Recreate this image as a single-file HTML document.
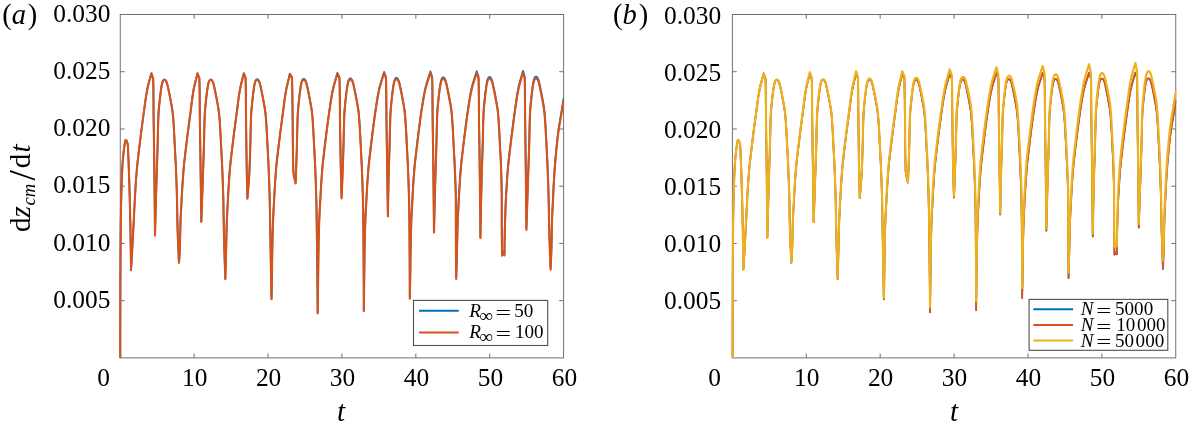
<!DOCTYPE html>
<html lang="en">
<head>
<meta charset="utf-8">
<title>Figure: dz_cm/dt versus t</title>
<style>
html,body{margin:0;padding:0;background:#fff;}
body{width:1189px;height:429px;overflow:hidden;}
svg{display:block;will-change:transform;}
text{font-family:"Liberation Serif","DejaVu Serif",serif;fill:#000;}
.tk{font-size:25.4px;}
.pl{font-size:28.5px;}
.al{font-size:29px;}
.lg{font-size:19.1px;}
.i{font-style:italic;}
.c{fill:none;stroke-width:2.1;stroke-linejoin:round;stroke-linecap:butt;}
</style>
</head>
<body>
<svg width="1189" height="429" viewBox="0 0 1189 429">
<rect x="0" y="0" width="1189" height="429" fill="#ffffff"/>
<defs>
<clipPath id="ca"><rect x="119.05" y="14.50" width="445.05" height="344.00"/></clipPath>
<clipPath id="cb"><rect x="731.20" y="14.50" width="445.05" height="344.00"/></clipPath>
</defs>

<!-- panel a -->
<rect x="120.25" y="14.50" width="443.35" height="343.40" fill="none" stroke="#707070" stroke-width="1"/>
<path d="M194.14 357.90v-4.40M194.14 14.50v4.40M268.03 357.90v-4.40M268.03 14.50v4.40M341.93 357.90v-4.40M341.93 14.50v4.40M415.82 357.90v-4.40M415.82 14.50v4.40M489.71 357.90v-4.40M489.71 14.50v4.40M120.25 300.67h4.40M563.60 300.67h-4.40M120.25 243.43h4.40M563.60 243.43h-4.40M120.25 186.20h4.40M563.60 186.20h-4.40M120.25 128.97h4.40M563.60 128.97h-4.40M120.25 71.73h4.40M563.60 71.73h-4.40" fill="none" stroke="#707070" stroke-width="1"/>
<g clip-path="url(#ca)">
<path class="c" style="stroke-width:1.8" stroke="#0072BD" d="M120.25 357.90L120.25 346.87L120.26 336.12L120.28 325.67L120.29 315.49L120.32 305.61L120.34 296.01L120.37 286.70L120.39 277.67L120.43 268.93L120.47 260.48L120.52 252.32L120.58 244.44L120.64 236.84L120.72 229.54L120.79 222.52L120.88 215.79L120.99 209.34L121.11 203.18L121.25 197.30L121.40 191.72L121.56 186.42L121.73 181.40L121.91 176.67L122.10 172.23L122.30 168.08L122.52 164.21L122.77 160.63L123.06 157.33L123.35 154.33L123.66 151.60L123.95 149.17L124.24 147.02L124.53 145.16L124.81 143.58L125.01 142.29L125.20 141.29L125.37 140.57L125.50 140.14L125.60 140.00L126.60 140.70L127.80 144.30L128.10 150.89L128.39 157.48L128.66 164.07L128.89 170.66L129.11 177.25L129.32 183.84L129.52 190.43L129.71 197.02L129.89 203.61L130.05 210.19L130.19 216.78L130.33 223.37L130.45 229.96L130.56 236.55L130.67 243.14L130.77 249.73L130.86 256.32L130.94 263.81L131.00 270.40L131.26 266.40L131.51 261.49L131.76 257.49L132.00 253.48L132.23 249.48L132.46 245.48L132.68 241.47L132.89 237.47L133.10 233.46L133.31 229.46L133.52 225.46L133.73 221.45L133.93 217.45L134.13 213.44L134.32 209.44L134.53 205.43L134.73 201.43L134.94 197.43L135.16 193.42L135.39 189.42L135.64 185.41L135.91 181.41L136.21 177.41L136.53 173.40L136.87 169.40L137.25 165.39L137.67 161.39L138.13 157.39L138.60 153.38L139.07 149.38L139.55 145.37L140.03 141.37L140.52 137.37L141.03 133.36L141.54 129.36L142.06 125.35L142.59 121.35L143.14 117.34L143.69 113.34L144.23 109.34L144.77 105.33L145.31 101.33L145.89 97.32L146.54 93.32L147.26 89.32L148.19 85.31L149.26 81.31L150.32 77.30L151.40 73.30L153.18 78.89L153.33 84.48L153.41 90.07L153.46 95.66L153.49 101.25L153.53 106.84L153.57 112.43L153.63 118.02L153.70 123.61L153.77 129.20L153.85 134.79L153.93 140.38L154.01 145.97L154.10 151.56L154.18 157.14L154.25 162.73L154.32 168.32L154.38 173.91L154.45 179.50L154.51 185.09L154.57 190.68L154.63 196.27L154.69 201.86L154.74 207.45L154.80 213.04L154.85 218.63L154.90 224.22L154.95 229.81L155.00 235.40L155.16 229.11L155.32 222.95L155.48 216.92L155.64 211.02L155.79 205.25L155.95 199.60L156.10 194.09L156.26 188.71L156.41 183.46L156.57 178.33L156.72 173.34L156.88 168.48L157.03 163.74L157.19 159.14L157.34 154.66L157.48 150.32L157.60 146.10L157.70 142.02L157.80 138.06L157.88 134.24L157.96 130.54L158.05 126.97L158.14 123.54L158.24 120.23L158.36 117.05L158.50 114.00L158.68 111.09L158.91 108.30L159.16 105.64L159.43 103.11L159.69 100.71L159.93 98.44L160.17 96.30L160.40 94.29L160.63 92.41L160.86 90.66L161.10 89.04L161.32 87.55L161.54 86.18L161.77 84.95L162.00 83.85L162.25 82.88L162.52 82.03L162.80 81.32L163.09 80.74L163.40 80.28L163.72 79.96L164.05 79.76L164.40 79.70L164.74 79.75L165.07 79.91L165.40 80.17L165.72 80.54L166.03 81.01L166.34 81.59L166.64 82.28L166.93 83.06L167.20 83.96L167.46 84.96L167.72 86.06L167.99 87.27L168.27 88.58L168.56 90.00L168.89 91.53L169.23 93.16L169.59 94.89L169.95 96.73L170.32 98.68L170.69 100.73L171.09 102.88L171.50 105.14L171.91 107.51L172.30 109.98L172.64 112.56L172.92 115.24L173.17 118.02L173.40 120.92L173.61 123.91L173.80 127.01L173.99 130.22L174.17 133.53L174.35 136.95L174.53 140.47L174.71 144.10L174.90 147.83L175.10 151.67L175.31 155.61L175.53 159.66L175.73 163.81L175.92 168.07L176.09 172.44L176.27 176.90L176.44 181.48L176.61 186.16L176.76 190.94L176.91 195.83L177.04 200.82L177.14 205.92L177.22 211.13L177.30 216.44L177.40 221.85L177.54 227.37L177.71 233.00L177.91 238.73L178.15 244.56L178.40 250.50L178.69 256.55L179.00 262.70L179.29 258.83L179.55 254.97L179.75 251.10L179.90 247.24L180.00 243.37L180.09 239.51L180.17 235.64L180.25 231.78L180.33 227.91L180.43 224.05L180.57 220.18L180.74 216.32L180.94 212.45L181.15 208.59L181.36 204.72L181.57 200.86L181.77 196.99L181.98 193.12L182.20 189.26L182.44 185.39L182.69 181.53L182.95 177.66L183.23 173.80L183.54 169.93L183.88 166.07L184.27 162.20L184.71 158.34L185.17 154.47L185.63 150.61L186.08 146.74L186.55 142.88L187.02 139.01L187.50 135.14L187.99 131.28L188.50 127.41L189.01 123.55L189.53 119.68L190.05 115.82L190.57 111.95L191.06 108.09L191.53 104.22L192.02 100.36L192.54 96.49L193.12 92.63L193.78 88.76L194.64 84.90L195.60 81.03L196.53 77.17L197.50 73.30L199.35 78.42L199.52 83.54L199.60 88.66L199.66 93.78L199.70 98.90L199.73 104.02L199.76 109.14L199.81 114.27L199.87 119.39L199.93 124.51L200.00 129.63L200.08 134.75L200.15 139.87L200.23 144.99L200.31 150.11L200.39 155.23L200.47 160.35L200.54 165.47L200.61 170.59L200.68 175.71L200.75 180.83L200.82 185.95L200.89 191.07L200.96 196.19L201.03 201.31L201.10 206.43L201.17 211.55L201.23 216.67L201.30 221.79L201.51 216.05L201.71 210.42L201.90 204.92L202.09 199.53L202.28 194.26L202.46 189.11L202.63 184.08L202.80 179.17L202.97 174.37L203.13 169.69L203.29 165.13L203.44 160.69L203.59 156.37L203.72 152.17L203.85 148.09L203.95 144.12L204.04 140.27L204.13 136.54L204.21 132.93L204.29 129.44L204.37 126.07L204.46 122.81L204.56 119.67L204.68 116.65L204.81 113.75L204.98 110.97L205.20 108.30L205.45 105.76L205.70 103.33L205.96 101.02L206.19 98.83L206.41 96.75L206.63 94.80L206.86 92.96L207.08 91.24L207.30 89.64L207.52 88.16L207.73 86.80L207.94 85.55L208.16 84.43L208.39 83.42L208.63 82.53L208.89 81.76L209.16 81.11L209.45 80.57L209.74 80.15L210.05 79.86L210.37 79.68L210.70 79.61L211.05 79.67L211.40 79.84L211.74 80.12L212.07 80.52L212.40 81.03L212.72 81.66L213.03 82.40L213.33 83.26L213.61 84.23L213.88 85.31L214.15 86.51L214.43 87.83L214.73 89.26L215.06 90.80L215.41 92.46L215.78 94.23L216.15 96.12L216.54 98.12L216.92 100.23L217.33 102.46L217.77 104.81L218.20 107.27L218.60 109.84L218.96 112.53L219.24 115.33L219.50 118.25L219.74 121.28L219.95 124.43L220.15 127.69L220.35 131.07L220.53 134.56L220.72 138.16L220.91 141.88L221.10 145.72L221.31 149.67L221.52 153.73L221.74 157.91L221.96 162.20L222.16 166.61L222.35 171.13L222.53 175.76L222.72 180.51L222.89 185.38L223.05 190.36L223.20 195.45L223.34 200.66L223.45 205.99L223.54 211.42L223.62 216.98L223.72 222.64L223.85 228.43L223.98 234.32L224.13 240.33L224.29 246.46L224.47 252.70L224.66 259.05L224.86 265.52L225.07 272.10L225.30 278.80L225.42 274.60L225.54 270.41L225.66 266.21L225.77 262.02L225.89 257.82L226.00 253.63L226.11 249.43L226.21 245.24L226.31 241.04L226.40 236.85L226.49 232.66L226.60 228.46L226.72 224.27L226.86 220.07L227.05 215.88L227.27 211.68L227.50 207.48L227.73 203.29L227.95 199.09L228.17 194.90L228.40 190.70L228.65 186.51L228.92 182.31L229.20 178.11L229.50 173.92L229.83 169.72L230.21 165.52L230.64 161.33L231.12 157.13L231.62 152.93L232.12 148.73L232.62 144.53L233.12 140.34L233.64 136.14L234.17 131.94L234.72 127.74L235.27 123.54L235.84 119.35L236.40 115.15L236.96 110.95L237.49 106.75L238.01 102.55L238.56 98.35L239.16 94.16L239.85 89.96L240.70 85.76L241.73 81.55L242.75 77.35L243.80 73.15L245.51 77.45L245.69 81.76L245.76 86.08L245.81 90.39L245.85 94.70L245.88 99.02L245.91 103.33L245.94 107.64L245.97 111.96L246.01 116.27L246.06 120.58L246.10 124.90L246.15 129.21L246.21 133.52L246.26 137.84L246.32 142.15L246.38 146.46L246.44 150.78L246.51 155.09L246.57 159.40L246.64 163.72L246.72 168.03L246.80 172.34L246.88 176.66L246.98 180.97L247.08 185.28L247.18 189.59L247.29 193.91L247.40 198.22L247.82 193.41L248.21 188.71L248.58 184.10L248.90 179.59L249.19 175.18L249.43 170.87L249.63 166.66L249.79 162.55L249.93 158.53L250.05 154.62L250.16 150.81L250.26 147.09L250.36 143.48L250.44 139.96L250.52 136.54L250.59 133.22L250.67 130.00L250.74 126.88L250.82 123.86L250.91 120.94L251.01 118.12L251.12 115.39L251.24 112.77L251.41 110.24L251.61 107.81L251.84 105.48L252.07 103.25L252.30 101.12L252.52 99.09L252.73 97.16L252.93 95.32L253.13 93.59L253.34 91.95L253.54 90.41L253.74 88.98L253.94 87.64L254.13 86.40L254.33 85.26L254.53 84.22L254.73 83.27L254.95 82.43L255.18 81.69L255.43 81.04L255.68 80.49L255.95 80.04L256.22 79.70L256.50 79.45L256.80 79.30L257.10 79.24L257.47 79.30L257.83 79.49L258.19 79.80L258.54 80.24L258.88 80.81L259.21 81.50L259.53 82.31L259.84 83.26L260.13 84.33L260.41 85.53L260.70 86.85L261.01 88.30L261.34 89.87L261.70 91.57L262.08 93.40L262.48 95.35L262.88 97.43L263.28 99.63L263.71 101.96L264.16 104.42L264.62 107.00L265.04 109.71L265.40 112.55L265.70 115.51L265.96 118.60L266.20 121.82L266.42 125.16L266.63 128.63L266.83 132.22L267.03 135.94L267.22 139.79L267.42 143.76L267.63 147.86L267.86 152.08L268.09 156.43L268.31 160.91L268.53 165.52L268.73 170.25L268.92 175.10L269.11 180.08L269.30 185.19L269.47 190.43L269.62 195.79L269.76 201.28L269.87 206.89L269.97 212.63L270.06 218.50L270.16 224.49L270.27 230.61L270.38 236.85L270.49 243.22L270.60 249.72L270.72 256.34L270.84 263.09L270.97 269.97L271.10 276.97L271.23 284.09L271.36 291.35L271.50 298.73L271.61 294.14L271.71 289.54L271.80 284.95L271.88 280.36L271.96 275.77L272.02 271.17L272.07 266.58L272.12 261.99L272.18 257.40L272.25 252.80L272.32 248.21L272.41 243.62L272.51 239.03L272.62 234.43L272.74 229.84L272.87 225.25L273.03 220.65L273.22 216.06L273.46 211.47L273.71 206.87L273.96 202.28L274.20 197.69L274.45 193.09L274.71 188.50L274.99 183.90L275.29 179.31L275.62 174.72L275.97 170.12L276.37 165.53L276.85 160.93L277.37 156.33L277.92 151.74L278.46 147.14L279.01 142.55L279.57 137.95L280.15 133.35L280.73 128.76L281.34 124.16L281.95 119.56L282.58 114.97L283.20 110.37L283.78 105.77L284.38 101.18L285.01 96.58L285.73 91.98L286.58 87.38L287.67 82.78L288.77 78.18L289.90 73.58L291.99 77.33L292.12 81.09L292.19 84.85L292.25 88.61L292.31 92.37L292.37 96.13L292.42 99.90L292.47 103.66L292.51 107.42L292.56 111.18L292.60 114.94L292.65 118.70L292.69 122.47L292.72 126.23L292.75 129.99L292.77 133.75L292.80 137.51L292.83 141.27L292.86 145.04L292.90 148.80L292.94 152.56L292.99 156.32L293.06 160.08L293.13 163.84L293.22 167.61L293.34 171.37L293.85 175.13L294.70 178.88L295.60 182.64L295.77 178.44L295.93 174.34L296.08 170.32L296.22 166.39L296.35 162.55L296.48 158.79L296.61 155.11L296.72 151.53L296.83 148.03L296.92 144.62L297.00 141.29L297.08 138.05L297.15 134.90L297.22 131.83L297.29 128.85L297.36 125.96L297.43 123.15L297.51 120.43L297.60 117.79L297.71 115.24L297.82 112.78L297.97 110.40L298.15 108.11L298.36 105.91L298.58 103.79L298.79 101.76L299.00 99.81L299.20 97.95L299.39 96.18L299.58 94.50L299.77 92.90L299.96 91.38L300.15 89.96L300.34 88.62L300.53 87.36L300.71 86.20L300.89 85.12L301.07 84.12L301.26 83.21L301.46 82.39L301.67 81.66L301.90 81.01L302.13 80.45L302.37 79.97L302.62 79.58L302.88 79.28L303.14 79.06L303.42 78.93L303.70 78.88L304.08 78.95L304.46 79.15L304.82 79.48L305.18 79.95L305.53 80.56L305.87 81.29L306.20 82.16L306.51 83.17L306.81 84.31L307.10 85.58L307.40 86.99L307.73 88.54L308.09 90.21L308.47 92.02L308.87 93.97L309.28 96.05L309.69 98.26L310.12 100.61L310.58 103.09L311.05 105.71L311.50 108.46L311.90 111.34L312.22 114.36L312.50 117.52L312.75 120.81L312.98 124.23L313.20 127.79L313.41 131.48L313.61 135.30L313.81 139.26L314.02 143.36L314.23 147.59L314.47 151.95L314.70 156.45L314.94 161.08L315.16 165.84L315.36 170.75L315.56 175.78L315.76 180.95L315.94 186.25L316.11 191.69L316.27 197.26L316.40 202.97L316.51 208.81L316.61 214.78L316.70 220.89L316.79 227.13L316.88 233.51L316.96 240.02L317.05 246.67L317.13 253.45L317.21 260.36L317.29 267.41L317.37 274.60L317.44 281.91L317.51 289.37L317.58 296.95L317.64 304.67L317.70 312.53L317.76 307.64L317.81 302.75L317.87 297.86L317.93 292.97L317.99 288.08L318.05 283.19L318.11 278.30L318.17 273.41L318.23 268.52L318.29 263.63L318.35 258.74L318.42 253.85L318.50 248.96L318.59 244.07L318.70 239.18L318.81 234.28L318.94 229.39L319.09 224.50L319.25 219.61L319.47 214.72L319.73 209.83L320.00 204.94L320.26 200.05L320.52 195.16L320.79 190.27L321.08 185.38L321.40 180.49L321.73 175.60L322.10 170.70L322.52 165.81L323.02 160.92L323.58 156.03L324.16 151.14L324.73 146.24L325.32 141.35L325.92 136.46L326.54 131.57L327.16 126.67L327.80 121.78L328.46 116.89L329.16 112.00L329.86 107.10L330.59 102.21L331.36 97.32L332.23 92.42L333.25 87.53L334.58 82.64L335.98 77.74L337.40 72.84L339.39 77.13L339.60 81.43L339.69 85.72L339.75 90.02L339.79 94.32L339.83 98.61L339.86 102.91L339.89 107.21L339.93 111.50L339.98 115.80L340.03 120.10L340.09 124.39L340.14 128.69L340.20 132.98L340.27 137.28L340.33 141.58L340.40 145.87L340.47 150.17L340.55 154.47L340.63 158.76L340.71 163.06L340.80 167.35L340.89 171.65L340.99 175.95L341.10 180.24L341.22 184.54L341.34 188.83L341.47 193.13L341.60 197.43L341.80 192.62L341.99 187.91L342.17 183.30L342.34 178.79L342.51 174.38L342.67 170.06L342.82 165.85L342.97 161.74L343.10 157.72L343.23 153.80L343.35 149.99L343.46 146.27L343.56 142.65L343.64 139.13L343.72 135.71L343.79 132.39L343.87 129.17L343.94 126.05L344.02 123.02L344.11 120.10L344.20 117.27L344.31 114.55L344.44 111.92L344.61 109.39L344.81 106.96L345.04 104.63L345.27 102.40L345.50 100.27L345.72 98.23L345.92 96.30L346.13 94.47L346.33 92.73L346.54 91.09L346.74 89.56L346.94 88.12L347.14 86.78L347.33 85.54L347.53 84.40L347.72 83.36L347.93 82.41L348.15 81.57L348.38 80.83L348.63 80.18L348.88 79.64L349.15 79.19L349.42 78.84L349.70 78.59L350.00 78.44L350.30 78.39L350.68 78.46L351.05 78.65L351.42 78.99L351.78 79.45L352.12 80.05L352.46 80.78L352.79 81.64L353.10 82.64L353.40 83.77L353.69 85.04L353.99 86.43L354.31 87.96L354.67 89.63L355.04 91.42L355.44 93.35L355.85 95.41L356.26 97.61L356.69 99.94L357.15 102.40L357.61 105.00L358.06 107.72L358.47 110.59L358.79 113.58L359.07 116.71L359.33 119.97L359.56 123.37L359.78 126.90L359.98 130.56L360.19 134.35L360.39 138.28L360.59 142.34L360.81 146.53L361.03 150.86L361.27 155.32L361.51 159.92L361.73 164.64L361.93 169.50L362.13 174.50L362.33 179.62L362.51 184.88L362.69 190.28L362.84 195.80L362.98 201.46L363.10 207.26L363.21 213.18L363.29 219.24L363.35 225.43L363.41 231.76L363.47 238.22L363.52 244.81L363.57 251.54L363.62 258.39L363.67 265.39L363.70 272.51L363.74 279.77L363.76 287.16L363.78 294.69L363.80 302.34L363.80 310.13L363.86 305.27L363.92 300.42L363.98 295.56L364.05 290.70L364.11 285.84L364.17 280.98L364.24 276.12L364.30 271.26L364.35 266.40L364.41 261.54L364.48 256.68L364.55 251.82L364.64 246.96L364.73 242.10L364.84 237.24L364.96 232.38L365.09 227.52L365.24 222.66L365.42 217.80L365.65 212.94L365.92 208.08L366.18 203.22L366.44 198.36L366.70 193.50L366.97 188.64L367.27 183.78L367.59 178.92L367.93 174.06L368.31 169.20L368.74 164.34L369.26 159.48L369.82 154.62L370.40 149.75L370.97 144.89L371.56 140.03L372.16 135.17L372.78 130.31L373.39 125.45L374.03 120.58L374.69 115.72L375.40 110.86L376.12 106.00L376.87 101.13L377.68 96.27L378.60 91.41L379.67 86.55L381.10 81.68L382.59 76.82L384.10 71.95L385.94 76.88L386.12 81.82L386.20 86.76L386.25 91.71L386.29 96.65L386.32 101.59L386.35 106.53L386.40 111.47L386.45 116.41L386.51 121.35L386.57 126.29L386.64 131.24L386.71 136.18L386.79 141.12L386.86 146.06L386.94 151.00L387.02 155.94L387.09 160.88L387.16 165.82L387.24 170.76L387.31 175.71L387.38 180.65L387.46 185.59L387.53 190.53L387.60 195.47L387.68 200.41L387.75 205.35L387.83 210.29L387.90 215.23L387.98 209.69L388.06 204.25L388.16 198.94L388.25 193.73L388.36 188.64L388.46 183.67L388.57 178.80L388.69 174.06L388.81 169.43L388.93 164.91L389.07 160.50L389.22 156.21L389.37 152.04L389.50 147.98L389.61 144.03L389.70 140.20L389.79 136.48L389.87 132.88L389.95 129.39L390.03 126.02L390.11 122.76L390.21 119.61L390.31 116.58L390.43 113.66L390.58 110.86L390.77 108.17L390.99 105.60L391.24 103.14L391.49 100.79L391.73 98.56L391.96 96.44L392.18 94.44L392.39 92.55L392.61 90.78L392.83 89.12L393.05 87.58L393.26 86.15L393.47 84.83L393.68 83.63L393.89 82.54L394.12 81.57L394.36 80.71L394.62 79.96L394.89 79.33L395.17 78.82L395.46 78.42L395.76 78.13L396.08 77.96L396.40 77.90L396.77 77.96L397.13 78.15L397.49 78.46L397.84 78.90L398.18 79.47L398.51 80.16L398.83 80.98L399.14 81.92L399.43 83.00L399.71 84.19L400.00 85.52L400.31 86.97L400.64 88.54L401.00 90.24L401.38 92.07L401.78 94.03L402.18 96.11L402.58 98.31L403.01 100.64L403.46 103.10L403.92 105.69L404.34 108.40L404.70 111.24L405.00 114.20L405.26 117.29L405.50 120.51L405.72 123.85L405.93 127.32L406.13 130.91L406.33 134.63L406.52 138.48L406.72 142.45L406.93 146.55L407.16 150.78L407.39 155.13L407.61 159.61L407.83 164.21L408.03 168.95L408.22 173.80L408.41 178.78L408.60 183.89L408.77 189.13L408.92 194.49L409.06 199.98L409.18 205.59L409.29 211.33L409.37 217.20L409.43 223.19L409.49 229.31L409.54 235.56L409.59 241.93L409.63 248.43L409.67 255.05L409.71 261.80L409.74 268.68L409.77 275.68L409.78 282.81L409.80 290.06L409.80 297.44L409.91 292.83L410.02 288.22L410.11 283.61L410.20 279.00L410.27 274.39L410.33 269.78L410.38 265.17L410.43 260.56L410.49 255.95L410.56 251.34L410.64 246.73L410.73 242.12L410.83 237.51L410.94 232.89L411.06 228.28L411.20 223.67L411.36 219.06L411.57 214.45L411.81 209.84L412.07 205.23L412.31 200.62L412.55 196.01L412.81 191.40L413.07 186.78L413.36 182.17L413.67 177.56L414.00 172.95L414.36 168.34L414.78 163.73L415.28 159.11L415.81 154.50L416.36 149.89L416.90 145.28L417.46 140.66L418.03 136.05L418.61 131.44L419.19 126.83L419.78 122.21L420.40 117.60L421.06 112.99L421.74 108.37L422.45 103.76L423.19 99.15L424.01 94.53L424.93 89.92L426.03 85.31L427.46 80.69L428.92 76.07L430.40 71.46L432.18 76.95L432.33 82.46L432.40 87.96L432.46 93.46L432.49 98.97L432.53 104.47L432.57 109.97L432.62 115.47L432.69 120.98L432.76 126.48L432.83 131.98L432.91 137.49L432.99 142.99L433.08 148.49L433.16 154.00L433.23 159.50L433.30 165.00L433.37 170.51L433.43 176.01L433.49 181.51L433.56 187.02L433.62 192.52L433.68 198.02L433.73 203.53L433.79 209.03L433.84 214.53L433.90 220.04L433.95 225.54L434.00 231.04L434.14 224.84L434.28 218.76L434.42 212.81L434.56 206.99L434.70 201.29L434.84 195.72L434.99 190.29L435.13 184.98L435.28 179.79L435.42 174.74L435.57 169.81L435.71 165.01L435.87 160.34L436.02 155.80L436.18 151.39L436.31 147.10L436.42 142.94L436.52 138.91L436.61 135.01L436.70 131.23L436.78 127.59L436.87 124.07L436.96 120.68L437.06 117.41L437.18 114.28L437.32 111.27L437.51 108.39L437.74 105.64L438.00 103.01L438.27 100.52L438.52 98.15L438.76 95.91L438.99 93.80L439.22 91.81L439.45 89.96L439.69 88.23L439.91 86.63L440.14 85.16L440.36 83.81L440.58 82.60L440.81 81.51L441.06 80.55L441.33 79.71L441.61 79.01L441.90 78.43L442.21 77.98L442.53 77.66L442.86 77.47L443.20 77.40L443.55 77.46L443.90 77.63L444.24 77.92L444.58 78.32L444.90 78.83L445.22 79.47L445.53 80.21L445.83 81.07L446.11 82.05L446.38 83.14L446.66 84.35L446.94 85.67L447.24 87.11L447.57 88.66L447.92 90.32L448.29 92.11L448.67 94.00L449.05 96.01L449.44 98.14L449.85 100.38L450.29 102.74L450.72 105.21L451.12 107.79L451.47 110.50L451.76 113.31L452.02 116.24L452.25 119.29L452.46 122.45L452.67 125.73L452.86 129.12L453.05 132.63L453.23 136.25L453.42 139.99L453.62 143.84L453.82 147.81L454.04 151.89L454.26 156.09L454.48 160.40L454.68 164.83L454.87 169.37L455.08 174.03L455.29 178.80L455.48 183.69L455.65 188.70L455.78 193.81L455.84 199.05L455.85 204.40L455.85 209.86L455.85 215.44L455.85 221.13L455.86 226.94L455.88 232.86L455.90 238.90L455.94 245.06L455.98 251.32L456.02 257.71L456.08 264.21L456.14 270.82L456.20 277.55L456.32 273.34L456.44 269.13L456.56 264.92L456.67 260.71L456.79 256.50L456.90 252.29L457.01 248.07L457.12 243.86L457.21 239.65L457.30 235.44L457.40 231.23L457.50 227.02L457.63 222.81L457.77 218.60L457.96 214.39L458.18 210.18L458.41 205.97L458.64 201.76L458.86 197.54L459.09 193.33L459.32 189.12L459.58 184.91L459.84 180.70L460.13 176.49L460.43 172.28L460.77 168.06L461.15 163.85L461.59 159.64L462.08 155.43L462.58 151.22L463.08 147.00L463.58 142.79L464.09 138.58L464.61 134.37L465.15 130.15L465.68 125.94L466.22 121.73L466.79 117.52L467.38 113.30L468.00 109.09L468.63 104.88L469.28 100.67L469.99 96.45L470.76 92.24L471.64 88.03L472.72 83.81L474.05 79.60L475.36 75.38L476.70 71.16L478.54 76.87L478.69 82.58L478.77 88.29L478.82 94.00L478.86 99.71L478.89 105.42L478.94 111.13L479.00 116.84L479.07 122.55L479.15 128.26L479.24 133.97L479.32 139.68L479.41 145.39L479.50 151.10L479.58 156.81L479.66 162.52L479.72 168.23L479.79 173.94L479.85 179.65L479.92 185.36L479.98 191.07L480.04 196.78L480.10 202.49L480.15 208.20L480.21 213.91L480.26 219.62L480.31 225.33L480.35 231.04L480.40 236.75L480.51 230.30L480.62 223.98L480.74 217.79L480.86 211.74L480.98 205.82L481.11 200.03L481.24 194.38L481.37 188.85L481.50 183.47L481.64 178.21L481.77 173.09L481.91 168.10L482.05 163.24L482.21 158.52L482.37 153.93L482.52 149.47L482.65 145.15L482.76 140.96L482.86 136.90L482.95 132.98L483.04 129.18L483.12 125.53L483.21 122.00L483.31 118.61L483.42 115.35L483.56 112.22L483.72 109.23L483.94 106.37L484.20 103.64L484.47 101.04L484.74 98.58L484.98 96.25L485.22 94.06L485.46 91.99L485.69 90.06L485.93 88.27L486.16 86.60L486.39 85.07L486.61 83.67L486.84 82.41L487.07 81.28L487.33 80.28L487.59 79.41L487.88 78.68L488.18 78.08L488.49 77.61L488.81 77.28L489.15 77.08L489.50 77.01L489.83 77.06L490.16 77.21L490.48 77.46L490.80 77.82L491.11 78.28L491.41 78.83L491.70 79.49L491.99 80.26L492.26 81.12L492.52 82.09L492.78 83.15L493.04 84.32L493.30 85.59L493.59 86.97L493.91 88.44L494.24 90.01L494.59 91.69L494.94 93.47L495.30 95.35L495.66 97.34L496.05 99.42L496.45 101.61L496.86 103.89L497.25 106.28L497.61 108.77L497.91 111.37L498.16 114.06L498.40 116.86L498.61 119.76L498.81 122.76L499.00 125.86L499.18 129.07L499.35 132.37L499.53 135.78L499.71 139.29L499.89 142.90L500.08 146.62L500.29 150.43L500.51 154.35L500.73 158.37L500.91 162.49L501.06 166.71L501.19 171.03L501.33 175.46L501.45 179.98L501.56 184.61L501.65 189.35L501.72 194.18L501.75 199.11L501.75 204.15L501.75 209.29L501.75 214.53L501.75 219.87L501.77 225.31L501.80 230.86L501.86 236.51L501.93 242.26L502.01 248.11L502.10 254.06L503.30 251.85L504.50 253.65L504.51 249.92L504.54 246.19L504.58 242.46L504.64 238.73L504.71 235.00L504.79 231.28L504.89 227.55L504.99 223.82L505.10 220.09L505.22 216.36L505.34 212.63L505.47 208.90L505.60 205.17L505.73 201.44L505.90 197.71L506.10 193.98L506.33 190.25L506.56 186.53L506.80 182.80L507.04 179.07L507.29 175.34L507.57 171.61L507.87 167.88L508.20 164.15L508.59 160.42L509.01 156.69L509.45 152.96L509.89 149.23L510.33 145.50L510.78 141.76L511.23 138.03L511.70 134.30L512.17 130.57L512.64 126.84L513.13 123.11L513.62 119.38L514.13 115.65L514.65 111.92L515.17 108.19L515.69 104.46L516.21 100.73L516.76 97.00L517.36 93.27L518.03 89.53L518.79 85.80L519.77 82.07L520.86 78.34L521.91 74.60L523.00 70.87L524.67 76.29L524.82 81.71L524.89 87.14L524.94 92.56L524.97 97.98L525.00 103.41L525.04 108.83L525.09 114.26L525.15 119.68L525.22 125.10L525.29 130.53L525.36 135.95L525.43 141.37L525.51 146.80L525.58 152.22L525.66 157.65L525.72 163.07L525.79 168.49L525.85 173.92L525.91 179.34L525.97 184.77L526.03 190.19L526.08 195.61L526.14 201.04L526.19 206.46L526.25 211.88L526.30 217.31L526.35 222.73L526.40 228.16L526.60 222.04L526.80 216.04L526.99 210.17L527.18 204.43L527.36 198.81L527.54 193.32L527.72 187.96L527.89 182.72L528.06 177.61L528.23 172.62L528.39 167.76L528.56 163.03L528.71 158.42L528.87 153.94L529.01 149.59L529.14 145.36L529.25 141.26L529.34 137.28L529.43 133.43L529.51 129.71L529.60 126.11L529.68 122.64L529.78 119.30L529.88 116.08L530.01 112.99L530.15 110.02L530.34 107.18L530.58 104.47L530.84 101.88L531.10 99.42L531.35 97.08L531.59 94.87L531.82 92.79L532.05 90.83L532.28 89.00L532.51 87.29L532.73 85.72L532.95 84.26L533.17 82.94L533.39 81.74L533.63 80.66L533.87 79.72L534.14 78.90L534.42 78.20L534.71 77.63L535.01 77.19L535.33 76.87L535.66 76.68L536.00 76.62L536.35 76.67L536.69 76.83L537.02 77.11L537.35 77.49L537.67 77.98L537.98 78.59L538.28 79.30L538.58 80.12L538.86 81.06L539.12 82.10L539.39 83.25L539.66 84.52L539.95 85.89L540.26 87.37L540.60 88.96L540.96 90.66L541.32 92.48L541.70 94.40L542.07 96.43L542.46 98.57L542.88 100.82L543.31 103.18L543.72 105.66L544.09 108.24L544.40 110.93L544.67 113.73L544.91 116.64L545.13 119.66L545.34 122.80L545.53 126.04L545.72 129.39L545.90 132.85L546.08 136.42L546.27 140.10L546.46 143.89L546.66 147.79L546.88 151.81L547.09 155.93L547.30 160.16L547.50 164.50L547.68 168.95L547.86 173.51L548.04 178.18L548.21 182.96L548.37 187.85L548.51 192.85L548.64 197.96L548.75 203.18L548.83 208.51L548.92 213.95L549.02 219.50L549.15 225.16L549.30 230.93L549.47 236.81L549.66 242.80L549.87 248.90L550.09 255.11L550.34 261.43L550.60 267.86L550.81 263.50L551.00 259.15L551.18 254.80L551.33 250.45L551.46 246.10L551.56 241.74L551.64 237.39L551.72 233.04L551.80 228.69L551.89 224.34L552.00 219.99L552.16 215.63L552.35 211.28L552.57 206.93L552.78 202.58L552.99 198.23L553.20 193.87L553.41 189.52L553.64 185.17L553.88 180.82L554.13 176.46L554.40 172.11L554.68 167.76L555.01 163.41L555.37 159.05L555.77 154.70L556.18 150.35L556.61 145.99L557.05 141.64L557.53 137.29L558.04 132.94L558.61 128.58L559.29 124.23L560.05 119.87L560.82 115.52L561.56 111.16L562.27 106.81L562.99 102.46L563.70 98.10"/>
<path class="c" stroke="#D95319" d="M120.25 357.90L120.25 346.87L120.26 336.12L120.28 325.67L120.29 315.49L120.32 305.61L120.34 296.01L120.37 286.70L120.39 277.67L120.43 268.93L120.47 260.48L120.52 252.32L120.58 244.44L120.64 236.84L120.72 229.54L120.79 222.52L120.88 215.79L120.99 209.34L121.11 203.18L121.25 197.30L121.40 191.72L121.56 186.42L121.73 181.40L121.91 176.67L122.10 172.23L122.30 168.08L122.52 164.21L122.77 160.63L123.06 157.33L123.35 154.33L123.66 151.60L123.95 149.17L124.24 147.02L124.53 145.16L124.81 143.58L125.01 142.29L125.20 141.29L125.37 140.57L125.50 140.14L125.60 140.00L126.60 140.70L127.80 144.30L128.10 150.89L128.39 157.48L128.66 164.07L128.89 170.66L129.11 177.25L129.32 183.84L129.52 190.43L129.71 197.02L129.89 203.61L130.05 210.19L130.19 216.78L130.33 223.37L130.45 229.96L130.56 236.55L130.67 243.14L130.77 249.73L130.86 256.32L130.94 262.91L131.00 269.50L131.26 265.50L131.51 261.49L131.76 257.49L132.00 253.48L132.23 249.48L132.46 245.48L132.68 241.47L132.89 237.47L133.10 233.46L133.31 229.46L133.52 225.46L133.73 221.45L133.93 217.45L134.13 213.44L134.32 209.44L134.53 205.43L134.73 201.43L134.94 197.43L135.16 193.42L135.39 189.42L135.64 185.41L135.91 181.41L136.21 177.41L136.53 173.40L136.87 169.40L137.25 165.39L137.67 161.39L138.13 157.39L138.60 153.38L139.07 149.38L139.55 145.37L140.03 141.37L140.52 137.37L141.03 133.36L141.54 129.36L142.06 125.35L142.59 121.35L143.14 117.34L143.69 113.34L144.23 109.34L144.77 105.33L145.31 101.33L145.89 97.32L146.54 93.32L147.26 89.32L148.19 85.31L149.26 81.31L150.32 77.30L151.40 73.30L153.18 78.89L153.33 84.48L153.41 90.07L153.46 95.66L153.49 101.25L153.53 106.84L153.57 112.43L153.63 118.02L153.70 123.61L153.77 129.20L153.85 134.79L153.93 140.38L154.01 145.97L154.10 151.56L154.18 157.14L154.25 162.73L154.32 168.32L154.38 173.91L154.45 179.50L154.51 185.09L154.57 190.68L154.63 196.27L154.69 201.86L154.74 207.45L154.80 213.04L154.85 218.63L154.90 224.22L154.95 229.81L155.00 235.40L155.16 229.11L155.32 222.95L155.48 216.92L155.64 211.02L155.79 205.25L155.95 199.60L156.10 194.09L156.26 188.71L156.41 183.46L156.57 178.33L156.72 173.34L156.88 168.48L157.03 163.74L157.19 159.14L157.34 154.66L157.48 150.32L157.60 146.10L157.70 142.02L157.80 138.06L157.88 134.24L157.96 130.54L158.05 126.97L158.14 123.54L158.24 120.23L158.36 117.05L158.50 114.00L158.68 111.09L158.91 108.30L159.16 105.64L159.43 103.11L159.69 100.71L159.93 98.44L160.17 96.30L160.40 94.29L160.63 92.41L160.86 90.66L161.10 89.04L161.32 87.55L161.54 86.18L161.77 84.95L162.00 83.85L162.25 82.88L162.52 82.03L162.80 81.32L163.09 80.74L163.40 80.28L163.72 79.96L164.05 79.76L164.40 79.70L164.74 79.75L165.07 79.91L165.40 80.17L165.72 80.54L166.03 81.01L166.34 81.59L166.64 82.28L166.93 83.06L167.20 83.96L167.46 84.96L167.72 86.06L167.99 87.27L168.27 88.58L168.56 90.00L168.89 91.53L169.23 93.16L169.59 94.89L169.95 96.73L170.32 98.68L170.69 100.73L171.09 102.88L171.50 105.14L171.91 107.51L172.30 109.98L172.64 112.56L172.92 115.24L173.17 118.02L173.40 120.92L173.61 123.91L173.80 127.01L173.99 130.22L174.17 133.53L174.35 136.95L174.53 140.47L174.71 144.10L174.90 147.83L175.10 151.67L175.31 155.61L175.53 159.66L175.73 163.81L175.92 168.07L176.09 172.44L176.27 176.90L176.44 181.48L176.61 186.16L176.76 190.94L176.91 195.83L177.04 200.82L177.14 205.92L177.22 211.13L177.30 216.44L177.40 221.85L177.54 227.37L177.71 233.00L177.91 238.73L178.15 244.56L178.40 250.50L178.69 256.55L179.00 262.70L179.29 258.83L179.55 254.97L179.75 251.10L179.90 247.24L180.00 243.37L180.09 239.51L180.17 235.64L180.25 231.78L180.33 227.91L180.43 224.05L180.57 220.18L180.74 216.32L180.94 212.45L181.15 208.59L181.36 204.72L181.57 200.86L181.77 196.99L181.98 193.12L182.20 189.26L182.44 185.39L182.69 181.53L182.95 177.66L183.23 173.80L183.54 169.93L183.88 166.07L184.27 162.20L184.71 158.34L185.17 154.47L185.63 150.61L186.08 146.74L186.55 142.88L187.02 139.01L187.50 135.14L187.99 131.28L188.50 127.41L189.01 123.55L189.53 119.68L190.05 115.82L190.57 111.95L191.06 108.09L191.53 104.22L192.02 100.36L192.54 96.49L193.12 92.63L193.78 88.76L194.64 84.90L195.60 81.03L196.53 77.17L197.50 73.30L199.35 78.42L199.52 83.54L199.60 88.66L199.66 93.78L199.70 98.90L199.73 104.02L199.76 109.14L199.81 114.27L199.87 119.39L199.93 124.51L200.00 129.63L200.08 134.75L200.15 139.87L200.23 144.99L200.31 150.11L200.39 155.23L200.47 160.35L200.54 165.47L200.61 170.59L200.68 175.71L200.75 180.83L200.82 185.96L200.89 191.08L200.96 196.20L201.03 201.32L201.10 206.44L201.17 211.56L201.23 216.68L201.30 221.80L201.51 216.06L201.71 210.44L201.90 204.93L202.09 199.55L202.28 194.28L202.46 189.13L202.63 184.10L202.80 179.19L202.97 174.39L203.13 169.72L203.29 165.16L203.44 160.72L203.59 156.40L203.72 152.20L203.85 148.12L203.95 144.15L204.04 140.30L204.13 136.58L204.21 132.97L204.29 129.47L204.37 126.10L204.46 122.84L204.56 119.71L204.68 116.69L204.81 113.79L204.98 111.01L205.20 108.34L205.45 105.80L205.70 103.37L205.96 101.07L206.19 98.88L206.41 96.80L206.63 94.85L206.86 93.02L207.08 91.30L207.30 89.70L207.52 88.22L207.73 86.86L207.94 85.62L208.16 84.49L208.39 83.49L208.63 82.60L208.89 81.83L209.16 81.18L209.45 80.65L209.74 80.23L210.05 79.94L210.37 79.76L210.70 79.70L211.05 79.76L211.40 79.93L211.74 80.22L212.07 80.62L212.40 81.13L212.72 81.76L213.03 82.51L213.33 83.36L213.61 84.34L213.88 85.43L214.15 86.63L214.43 87.94L214.73 89.38L215.06 90.92L215.41 92.58L215.78 94.36L216.15 96.25L216.54 98.25L216.92 100.37L217.33 102.60L217.77 104.95L218.20 107.41L218.60 109.99L218.96 112.68L219.24 115.48L219.50 118.40L219.74 121.44L219.95 124.59L220.15 127.85L220.35 131.23L220.53 134.72L220.72 138.33L220.91 142.05L221.10 145.89L221.31 149.84L221.52 153.90L221.74 158.08L221.96 162.37L222.16 166.78L222.35 171.31L222.53 175.94L222.72 180.70L222.89 185.56L223.05 190.54L223.20 195.64L223.34 200.85L223.45 206.17L223.54 211.61L223.62 217.17L223.72 222.83L223.85 228.62L223.98 234.51L224.13 240.53L224.29 246.65L224.47 252.89L224.66 259.25L224.86 265.72L225.07 272.30L225.30 279.00L225.42 274.81L225.54 270.61L225.66 266.42L225.77 262.22L225.89 258.03L226.00 253.84L226.11 249.64L226.21 245.45L226.31 241.26L226.40 237.06L226.49 232.87L226.60 228.67L226.72 224.48L226.86 220.29L227.05 216.09L227.27 211.90L227.50 207.70L227.73 203.51L227.95 199.32L228.17 195.12L228.40 190.93L228.65 186.73L228.92 182.54L229.20 178.35L229.50 174.15L229.83 169.96L230.21 165.77L230.64 161.57L231.12 157.38L231.62 153.18L232.12 148.99L232.62 144.80L233.12 140.60L233.64 136.41L234.17 132.21L234.72 128.02L235.27 123.83L235.84 119.63L236.40 115.44L236.96 111.24L237.49 107.05L238.01 102.86L238.56 98.66L239.16 94.47L239.85 90.28L240.70 86.08L241.73 81.89L242.75 77.69L243.80 73.50L245.51 77.81L245.69 82.13L245.76 86.44L245.81 90.76L245.85 95.07L245.88 99.38L245.91 103.70L245.94 108.01L245.97 112.32L246.01 116.64L246.06 120.95L246.10 125.27L246.15 129.58L246.21 133.89L246.26 138.21L246.32 142.52L246.38 146.83L246.44 151.15L246.51 155.46L246.57 159.78L246.64 164.09L246.72 168.40L246.80 172.72L246.88 177.03L246.98 181.34L247.08 185.66L247.18 189.97L247.29 194.29L247.40 198.60L247.82 193.80L248.21 189.09L248.58 184.49L248.90 179.98L249.19 175.57L249.43 171.26L249.63 167.06L249.79 162.94L249.93 158.93L250.05 155.02L250.16 151.21L250.26 147.49L250.36 143.88L250.44 140.36L250.52 136.95L250.59 133.63L250.67 130.41L250.74 127.29L250.82 124.27L250.91 121.35L251.01 118.52L251.12 115.80L251.24 113.18L251.41 110.65L251.61 108.22L251.84 105.90L252.07 103.67L252.30 101.54L252.52 99.51L252.73 97.58L252.93 95.74L253.13 94.01L253.34 92.38L253.54 90.84L253.74 89.41L253.94 88.07L254.13 86.83L254.33 85.69L254.53 84.65L254.73 83.71L254.95 82.87L255.18 82.13L255.43 81.48L255.68 80.94L255.95 80.49L256.22 80.15L256.50 79.90L256.80 79.75L257.10 79.70L257.47 79.76L257.83 79.95L258.19 80.27L258.54 80.71L258.88 81.28L259.21 81.97L259.53 82.79L259.84 83.74L260.13 84.81L260.41 86.01L260.70 87.33L261.01 88.78L261.34 90.36L261.70 92.06L262.08 93.89L262.48 95.85L262.88 97.93L263.28 100.14L263.71 102.47L264.16 104.93L264.62 107.52L265.04 110.23L265.40 113.07L265.70 116.04L265.96 119.13L266.20 122.35L266.42 125.69L266.63 129.16L266.83 132.75L267.03 136.48L267.22 140.32L267.42 144.30L267.63 148.40L267.86 152.63L268.09 156.98L268.31 161.46L268.53 166.06L268.73 170.80L268.92 175.65L269.11 180.64L269.30 185.75L269.47 190.98L269.62 196.34L269.76 201.83L269.87 207.45L269.97 213.19L270.06 219.06L270.16 225.05L270.27 231.17L270.38 237.41L270.49 243.78L270.60 250.28L270.72 256.91L270.84 263.66L270.97 270.53L271.10 277.54L271.23 284.66L271.36 291.92L271.50 299.30L271.61 294.71L271.71 290.12L271.80 285.52L271.88 280.93L271.96 276.34L272.02 271.75L272.07 267.16L272.12 262.57L272.18 257.97L272.25 253.38L272.32 248.79L272.41 244.20L272.51 239.61L272.62 235.01L272.74 230.42L272.87 225.83L273.03 221.24L273.22 216.65L273.46 212.06L273.71 207.46L273.96 202.87L274.20 198.28L274.45 193.69L274.71 189.10L274.99 184.50L275.29 179.91L275.62 175.32L275.97 170.73L276.37 166.14L276.85 161.54L277.37 156.95L277.92 152.36L278.46 147.77L279.01 143.18L279.57 138.59L280.15 133.99L280.73 129.40L281.34 124.81L281.95 120.22L282.58 115.63L283.20 111.03L283.78 106.44L284.38 101.85L285.01 97.26L285.73 92.67L286.58 88.08L287.67 83.48L288.77 78.89L289.90 74.30L291.99 78.06L292.12 81.82L292.19 85.59L292.25 89.35L292.31 93.11L292.37 96.87L292.42 100.63L292.47 104.40L292.51 108.16L292.56 111.92L292.60 115.68L292.65 119.44L292.69 123.21L292.72 126.97L292.75 130.73L292.77 134.49L292.80 138.26L292.83 142.02L292.86 145.78L292.90 149.54L292.94 153.30L292.99 157.07L293.06 160.83L293.13 164.59L293.22 168.35L293.34 172.11L293.85 175.88L294.70 179.64L295.60 183.40L295.77 179.21L295.93 175.11L296.08 171.09L296.22 167.16L296.35 163.32L296.48 159.56L296.61 155.89L296.72 152.30L296.83 148.80L296.92 145.39L297.00 142.07L297.08 138.83L297.15 135.67L297.22 132.61L297.29 129.63L297.36 126.73L297.43 123.93L297.51 121.21L297.60 118.57L297.71 116.02L297.82 113.56L297.97 111.19L298.15 108.90L298.36 106.69L298.58 104.58L298.79 102.55L299.00 100.60L299.20 98.75L299.39 96.98L299.58 95.29L299.77 93.69L299.96 92.18L300.15 90.76L300.34 89.42L300.53 88.17L300.71 87.00L300.89 85.92L301.07 84.93L301.26 84.02L301.46 83.20L301.67 82.46L301.90 81.82L302.13 81.25L302.37 80.78L302.62 80.39L302.88 80.09L303.14 79.87L303.42 79.74L303.70 79.70L304.08 79.77L304.46 79.97L304.82 80.30L305.18 80.77L305.53 81.38L305.87 82.12L306.20 82.99L306.51 84.00L306.81 85.14L307.10 86.41L307.40 87.82L307.73 89.37L308.09 91.05L308.47 92.86L308.87 94.81L309.28 96.89L309.69 99.10L310.12 101.45L310.58 103.94L311.05 106.55L311.50 109.31L311.90 112.19L312.22 115.21L312.50 118.37L312.75 121.66L312.98 125.08L313.20 128.64L313.41 132.33L313.61 136.16L313.81 140.12L314.02 144.22L314.23 148.45L314.47 152.81L314.70 157.31L314.94 161.94L315.16 166.71L315.36 171.61L315.56 176.64L315.76 181.81L315.94 187.12L316.11 192.56L316.27 198.13L316.40 203.83L316.51 209.68L316.61 215.65L316.70 221.76L316.79 228.00L316.88 234.38L316.96 240.89L317.05 247.54L317.13 254.32L317.21 261.24L317.29 268.28L317.37 275.47L317.44 282.79L317.51 290.24L317.58 297.82L317.64 305.55L317.70 313.40L317.76 308.51L317.81 303.62L317.87 298.73L317.93 293.84L317.99 288.95L318.05 284.06L318.11 279.17L318.17 274.28L318.23 269.39L318.29 264.50L318.35 259.61L318.42 254.72L318.50 249.83L318.59 244.94L318.70 240.05L318.81 235.16L318.94 230.27L319.09 225.38L319.25 220.49L319.47 215.60L319.73 210.71L320.00 205.82L320.26 200.93L320.52 196.04L320.79 191.16L321.08 186.27L321.40 181.38L321.73 176.49L322.10 171.60L322.52 166.71L323.02 161.82L323.58 156.93L324.16 152.04L324.73 147.15L325.32 142.26L325.92 137.37L326.54 132.48L327.16 127.59L327.80 122.70L328.46 117.81L329.16 112.92L329.86 108.03L330.59 103.14L331.36 98.25L332.23 93.36L333.25 88.47L334.58 83.58L335.98 78.69L337.40 73.80L339.39 78.10L339.60 82.39L339.69 86.69L339.75 90.99L339.79 95.28L339.83 99.58L339.86 103.88L339.89 108.17L339.93 112.47L339.98 116.77L340.03 121.06L340.09 125.36L340.14 129.66L340.20 133.95L340.27 138.25L340.33 142.54L340.40 146.84L340.47 151.14L340.55 155.43L340.63 159.73L340.71 164.03L340.80 168.32L340.89 172.62L340.99 176.92L341.10 181.21L341.22 185.51L341.34 189.81L341.47 194.10L341.60 198.40L341.80 193.59L341.99 188.88L342.17 184.27L342.34 179.76L342.51 175.35L342.67 171.04L342.82 166.83L342.97 162.71L343.10 158.70L343.23 154.78L343.35 150.97L343.46 147.25L343.56 143.63L343.64 140.11L343.72 136.69L343.79 133.37L343.87 130.15L343.94 127.03L344.02 124.01L344.11 121.08L344.20 118.26L344.31 115.53L344.44 112.90L344.61 110.38L344.81 107.95L345.04 105.62L345.27 103.39L345.50 101.26L345.72 99.23L345.92 97.29L346.13 95.46L346.33 93.72L346.54 92.09L346.74 90.55L346.94 89.11L347.14 87.78L347.33 86.54L347.53 85.40L347.72 84.36L347.93 83.41L348.15 82.57L348.38 81.83L348.63 81.18L348.88 80.64L349.15 80.19L349.42 79.85L349.70 79.60L350.00 79.45L350.30 79.40L350.68 79.47L351.05 79.67L351.42 80.00L351.78 80.47L352.12 81.06L352.46 81.80L352.79 82.66L353.10 83.66L353.40 84.79L353.69 86.06L353.99 87.46L354.31 88.99L354.67 90.65L355.04 92.45L355.44 94.38L355.85 96.45L356.26 98.64L356.69 100.98L357.15 103.44L357.61 106.04L358.06 108.77L358.47 111.63L358.79 114.63L359.07 117.76L359.33 121.02L359.56 124.41L359.78 127.94L359.98 131.61L360.19 135.40L360.39 139.33L360.59 143.39L360.81 147.59L361.03 151.92L361.27 156.38L361.51 160.97L361.73 165.70L361.93 170.56L362.13 175.56L362.33 180.68L362.51 185.94L362.69 191.34L362.84 196.86L362.98 202.53L363.10 208.32L363.21 214.24L363.29 220.30L363.35 226.50L363.41 232.82L363.47 239.28L363.52 245.88L363.57 252.60L363.62 259.46L363.67 266.45L363.70 273.58L363.74 280.83L363.76 288.23L363.78 295.75L363.80 303.41L363.80 311.20L363.86 306.34L363.92 301.48L363.98 296.62L364.05 291.76L364.11 286.90L364.17 282.04L364.24 277.19L364.30 272.33L364.35 267.47L364.41 262.61L364.48 257.75L364.55 252.89L364.64 248.03L364.73 243.17L364.84 238.31L364.96 233.45L365.09 228.59L365.24 223.73L365.42 218.88L365.65 214.02L365.92 209.16L366.18 204.30L366.44 199.44L366.70 194.58L366.97 189.72L367.27 184.86L367.59 180.00L367.93 175.14L368.31 170.28L368.74 165.42L369.26 160.57L369.82 155.71L370.40 150.85L370.97 145.99L371.56 141.13L372.16 136.27L372.78 131.41L373.39 126.55L374.03 121.69L374.69 116.83L375.40 111.97L376.12 107.11L376.87 102.26L377.68 97.40L378.60 92.54L379.67 87.68L381.10 82.82L382.59 77.96L384.10 73.10L385.94 78.04L386.12 82.98L386.20 87.92L386.25 92.87L386.29 97.81L386.32 102.75L386.35 107.69L386.40 112.63L386.45 117.57L386.51 122.51L386.57 127.46L386.64 132.40L386.71 137.34L386.79 142.28L386.86 147.22L386.94 152.16L387.02 157.10L387.09 162.04L387.16 166.99L387.24 171.93L387.31 176.87L387.38 181.81L387.46 186.75L387.53 191.69L387.60 196.63L387.68 201.58L387.75 206.52L387.83 211.46L387.90 216.40L387.98 210.85L388.06 205.42L388.16 200.10L388.25 194.90L388.36 189.81L388.46 184.83L388.57 179.97L388.69 175.23L388.81 170.60L388.93 166.08L389.07 161.67L389.22 157.39L389.37 153.21L389.50 149.15L389.61 145.21L389.70 141.37L389.79 137.66L389.87 134.05L389.95 130.57L390.03 127.19L390.11 123.93L390.21 120.79L390.31 117.76L390.43 114.84L390.58 112.04L390.77 109.35L390.99 106.78L391.24 104.32L391.49 101.97L391.73 99.74L391.96 97.63L392.18 95.63L392.39 93.74L392.61 91.97L392.83 90.31L393.05 88.76L393.26 87.33L393.47 86.02L393.68 84.82L393.89 83.73L394.12 82.76L394.36 81.90L394.62 81.16L394.89 80.53L395.17 80.01L395.46 79.61L395.76 79.33L396.08 79.16L396.40 79.10L396.77 79.16L397.13 79.35L397.49 79.67L397.84 80.11L398.18 80.68L398.51 81.37L398.83 82.19L399.14 83.14L399.43 84.21L399.71 85.41L400.00 86.73L400.31 88.18L400.64 89.76L401.00 91.46L401.38 93.29L401.78 95.25L402.18 97.33L402.58 99.54L403.01 101.87L403.46 104.33L403.92 106.92L404.34 109.63L404.70 112.47L405.00 115.44L405.26 118.53L405.50 121.75L405.72 125.09L405.93 128.56L406.13 132.15L406.33 135.88L406.52 139.72L406.72 143.70L406.93 147.80L407.16 152.03L407.39 156.38L407.61 160.86L407.83 165.46L408.03 170.20L408.22 175.05L408.41 180.04L408.60 185.15L408.77 190.38L408.92 195.74L409.06 201.23L409.18 206.85L409.29 212.59L409.37 218.46L409.43 224.45L409.49 230.57L409.54 236.81L409.59 243.18L409.63 249.68L409.67 256.31L409.71 263.06L409.74 269.93L409.77 276.94L409.78 284.06L409.80 291.32L409.80 298.70L409.91 294.09L410.02 289.48L410.11 284.87L410.20 280.26L410.27 275.65L410.33 271.04L410.38 266.43L410.43 261.82L410.49 257.21L410.56 252.60L410.64 247.99L410.73 243.38L410.83 238.77L410.94 234.16L411.06 229.55L411.20 224.94L411.36 220.33L411.57 215.72L411.81 211.11L412.07 206.50L412.31 201.89L412.55 197.28L412.81 192.67L413.07 188.06L413.36 183.44L413.67 178.83L414.00 174.22L414.36 169.61L414.78 165.00L415.28 160.39L415.81 155.78L416.36 151.17L416.90 146.56L417.46 141.95L418.03 137.34L418.61 132.73L419.19 128.12L419.78 123.51L420.40 118.90L421.06 114.29L421.74 109.68L422.45 105.07L423.19 100.46L424.01 95.85L424.93 91.24L426.03 86.63L427.46 82.02L428.92 77.41L430.40 72.80L432.18 78.30L432.33 83.81L432.40 89.31L432.46 94.81L432.49 100.32L432.53 105.82L432.57 111.32L432.62 116.83L432.69 122.33L432.76 127.83L432.83 133.34L432.91 138.84L432.99 144.34L433.08 149.85L433.16 155.35L433.23 160.86L433.30 166.36L433.37 171.86L433.43 177.37L433.49 182.87L433.56 188.37L433.62 193.88L433.68 199.38L433.73 204.88L433.79 210.39L433.84 215.89L433.90 221.39L433.95 226.90L434.00 232.40L434.14 226.19L434.28 220.12L434.42 214.17L434.56 208.35L434.70 202.65L434.84 197.09L434.99 191.65L435.13 186.34L435.28 181.16L435.42 176.10L435.57 171.18L435.71 166.38L435.87 161.71L436.02 157.17L436.18 152.75L436.31 148.47L436.42 144.31L436.52 140.28L436.61 136.38L436.70 132.60L436.78 128.96L436.87 125.44L436.96 122.05L437.06 118.78L437.18 115.65L437.32 112.64L437.51 109.76L437.74 107.01L438.00 104.39L438.27 101.89L438.52 99.53L438.76 97.29L438.99 95.18L439.22 93.19L439.45 91.34L439.69 89.61L439.91 88.01L440.14 86.54L440.36 85.20L440.58 83.98L440.81 82.89L441.06 81.93L441.33 81.10L441.61 80.40L441.90 79.82L442.21 79.38L442.53 79.06L442.86 78.86L443.20 78.80L443.55 78.86L443.90 79.03L444.24 79.32L444.58 79.72L444.90 80.24L445.22 80.87L445.53 81.62L445.83 82.48L446.11 83.46L446.38 84.55L446.66 85.76L446.94 87.08L447.24 88.52L447.57 90.07L447.92 91.74L448.29 93.52L448.67 95.42L449.05 97.43L449.44 99.56L449.85 101.80L450.29 104.16L450.72 106.64L451.12 109.22L451.47 111.93L451.76 114.75L452.02 117.68L452.25 120.73L452.46 123.89L452.67 127.17L452.86 130.56L453.05 134.07L453.23 137.69L453.42 141.43L453.62 145.28L453.82 149.25L454.04 153.34L454.26 157.53L454.48 161.85L454.68 166.28L454.87 170.82L455.08 175.48L455.29 180.25L455.48 185.14L455.65 190.14L455.78 195.26L455.84 200.50L455.85 205.84L455.85 211.31L455.85 216.89L455.85 222.58L455.86 228.39L455.88 234.31L455.90 240.35L455.94 246.51L455.98 252.77L456.02 259.16L456.08 265.66L456.14 272.27L456.20 279.00L456.32 274.79L456.44 270.58L456.56 266.37L456.67 262.16L456.79 257.95L456.90 253.74L457.01 249.53L457.12 245.32L457.21 241.11L457.30 236.90L457.40 232.69L457.50 228.48L457.63 224.27L457.77 220.06L457.96 215.85L458.18 211.64L458.41 207.43L458.64 203.22L458.86 199.01L459.09 194.80L459.32 190.59L459.58 186.38L459.84 182.17L460.13 177.96L460.43 173.74L460.77 169.53L461.15 165.32L461.59 161.11L462.08 156.90L462.58 152.69L463.08 148.48L463.58 144.27L464.09 140.06L464.61 135.85L465.15 131.64L465.68 127.43L466.22 123.22L466.79 119.01L467.38 114.80L468.00 110.59L468.63 106.38L469.28 102.17L469.99 97.96L470.76 93.75L471.64 89.54L472.72 85.33L474.05 81.12L475.36 76.91L476.70 72.70L478.54 78.41L478.69 84.12L478.77 89.83L478.82 95.54L478.86 101.25L478.89 106.96L478.94 112.67L479.00 118.38L479.07 124.09L479.15 129.80L479.24 135.51L479.32 141.22L479.41 146.93L479.50 152.64L479.58 158.36L479.66 164.07L479.72 169.78L479.79 175.49L479.85 181.20L479.92 186.91L479.98 192.62L480.04 198.33L480.10 204.04L480.15 209.75L480.21 215.46L480.26 221.17L480.31 226.88L480.35 232.59L480.40 238.30L480.51 231.85L480.62 225.53L480.74 219.34L480.86 213.29L480.98 207.37L481.11 201.58L481.24 195.93L481.37 190.41L481.50 185.02L481.64 179.77L481.77 174.65L481.91 169.66L482.05 164.80L482.21 160.08L482.37 155.49L482.52 151.03L482.65 146.71L482.76 142.52L482.86 138.46L482.95 134.54L483.04 130.75L483.12 127.09L483.21 123.56L483.31 120.17L483.42 116.91L483.56 113.79L483.72 110.79L483.94 107.93L484.20 105.21L484.47 102.61L484.74 100.15L484.98 97.82L485.22 95.63L485.46 93.57L485.69 91.64L485.93 89.84L486.16 88.18L486.39 86.65L486.61 85.25L486.84 83.99L487.07 82.86L487.33 81.86L487.59 80.99L487.88 80.26L488.18 79.66L488.49 79.20L488.81 78.87L489.15 78.67L489.50 78.60L489.83 78.65L490.16 78.80L490.48 79.06L490.80 79.41L491.11 79.87L491.41 80.43L491.70 81.09L491.99 81.86L492.26 82.72L492.52 83.69L492.78 84.76L493.04 85.93L493.30 87.20L493.59 88.57L493.91 90.05L494.24 91.62L494.59 93.30L494.94 95.08L495.30 96.97L495.66 98.95L496.05 101.04L496.45 103.22L496.86 105.51L497.25 107.90L497.61 110.40L497.91 112.99L498.16 115.69L498.40 118.49L498.61 121.39L498.81 124.39L499.00 127.49L499.18 130.70L499.35 134.00L499.53 137.41L499.71 140.92L499.89 144.54L500.08 148.25L500.29 152.07L500.51 155.98L500.73 160.00L500.91 164.12L501.06 168.35L501.19 172.67L501.33 177.10L501.45 181.62L501.56 186.25L501.65 190.99L501.72 195.82L501.75 200.75L501.75 205.79L501.75 210.93L501.75 216.17L501.75 221.51L501.77 226.95L501.80 232.50L501.86 238.15L501.93 243.90L502.01 249.75L502.10 255.70L503.30 253.50L504.50 255.30L504.51 251.57L504.54 247.84L504.58 244.11L504.64 240.39L504.71 236.66L504.79 232.93L504.89 229.20L504.99 225.47L505.10 221.74L505.22 218.01L505.34 214.29L505.47 210.56L505.60 206.83L505.73 203.10L505.90 199.37L506.10 195.64L506.33 191.91L506.56 188.19L506.80 184.46L507.04 180.73L507.29 177.00L507.57 173.27L507.87 169.54L508.20 165.81L508.59 162.09L509.01 158.36L509.45 154.63L509.89 150.90L510.33 147.17L510.78 143.44L511.23 139.71L511.70 135.99L512.17 132.26L512.64 128.53L513.13 124.80L513.62 121.07L514.13 117.34L514.65 113.61L515.17 109.89L515.69 106.16L516.21 102.43L516.76 98.70L517.36 94.97L518.03 91.24L518.79 87.51L519.77 83.79L520.86 80.06L521.91 76.33L523.00 72.60L524.67 78.02L524.82 83.45L524.89 88.87L524.94 94.30L524.97 99.72L525.00 105.14L525.04 110.57L525.09 115.99L525.15 121.42L525.22 126.84L525.29 132.27L525.36 137.69L525.43 143.11L525.51 148.54L525.58 153.96L525.66 159.39L525.72 164.81L525.79 170.23L525.85 175.66L525.91 181.08L525.97 186.51L526.03 191.93L526.08 197.36L526.14 202.78L526.19 208.20L526.25 213.63L526.30 219.05L526.35 224.48L526.40 229.90L526.60 223.78L526.80 217.79L526.99 211.92L527.18 206.17L527.36 200.56L527.54 195.07L527.72 189.71L527.89 184.47L528.06 179.36L528.23 174.37L528.39 169.51L528.56 164.78L528.71 160.18L528.87 155.70L529.01 151.34L529.14 147.11L529.25 143.01L529.34 139.04L529.43 135.19L529.51 131.47L529.60 127.87L529.68 124.40L529.78 121.05L529.88 117.84L530.01 114.74L530.15 111.78L530.34 108.94L530.58 106.23L530.84 103.64L531.10 101.18L531.35 98.84L531.59 96.64L531.82 94.55L532.05 92.60L532.28 90.77L532.51 89.06L532.73 87.49L532.95 86.03L533.17 84.71L533.39 83.51L533.63 82.44L533.87 81.49L534.14 80.67L534.42 79.98L534.71 79.41L535.01 78.97L535.33 78.65L535.66 78.46L536.00 78.40L536.35 78.45L536.69 78.62L537.02 78.89L537.35 79.28L537.67 79.77L537.98 80.38L538.28 81.09L538.58 81.92L538.86 82.85L539.12 83.90L539.39 85.05L539.66 86.31L539.95 87.69L540.26 89.17L540.60 90.76L540.96 92.47L541.32 94.28L541.70 96.21L542.07 98.24L542.46 100.38L542.88 102.64L543.31 105.00L543.72 107.47L544.09 110.05L544.40 112.75L544.67 115.55L544.91 118.46L545.13 121.49L545.34 124.62L545.53 127.86L545.72 131.21L545.90 134.67L546.08 138.25L546.27 141.93L546.46 145.72L546.66 149.62L546.88 153.63L547.09 157.76L547.30 161.99L547.50 166.33L547.68 170.78L547.86 175.34L548.04 180.01L548.21 184.79L548.37 189.68L548.51 194.69L548.64 199.80L548.75 205.02L548.83 210.35L548.92 215.79L549.02 221.34L549.15 227.00L549.30 232.77L549.47 238.65L549.66 244.64L549.87 250.74L550.09 256.95L550.34 263.27L550.60 269.70L550.81 265.35L551.00 261.00L551.18 256.65L551.33 252.29L551.46 247.94L551.56 243.59L551.64 239.24L551.72 234.89L551.80 230.54L551.89 226.19L552.00 221.84L552.16 217.48L552.35 213.13L552.57 208.78L552.78 204.43L552.99 200.08L553.20 195.73L553.41 191.38L553.64 187.03L553.88 182.67L554.13 178.32L554.40 173.97L554.68 169.62L555.01 165.27L555.37 160.92L555.77 156.57L556.18 152.22L556.61 147.86L557.05 143.51L557.53 139.16L558.04 134.81L558.61 130.46L559.29 126.11L560.05 121.76L560.82 117.41L561.56 113.05L562.27 108.70L562.99 104.35L563.70 100.00"/>
</g>
<text class="tk" x="103.50" y="386.3" text-anchor="middle">0</text>
<text class="tk" x="194.65" y="386.3" text-anchor="middle">10</text>
<text class="tk" x="268.60" y="386.3" text-anchor="middle">20</text>
<text class="tk" x="342.55" y="386.3" text-anchor="middle">30</text>
<text class="tk" x="416.50" y="386.3" text-anchor="middle">40</text>
<text class="tk" x="490.45" y="386.3" text-anchor="middle">50</text>
<text class="tk" x="564.40" y="386.3" text-anchor="middle">60</text>
<text class="tk" x="110.40" y="307.75" text-anchor="end">0.005</text>
<text class="tk" x="110.40" y="250.62" text-anchor="end">0.010</text>
<text class="tk" x="110.40" y="193.49" text-anchor="end">0.015</text>
<text class="tk" x="110.40" y="136.36" text-anchor="end">0.020</text>
<text class="tk" x="110.40" y="79.23" text-anchor="end">0.025</text>
<text class="tk" x="110.40" y="22.10" text-anchor="end">0.030</text>
<text class="pl" x="2.2" y="24.0">(<tspan class="i">a</tspan><tspan dx="1.9">)</tspan></text>
<text class="al i" x="336.9" y="421.2">t</text>
<text class="al" transform="translate(29.5 231.9) rotate(-90)"><tspan x="0" y="0">d</tspan><tspan class="i">z</tspan><tspan class="i" x="26.4" y="5.1" font-size="18.7">cm</tspan><tspan x="51.45" y="5.3" font-size="37.5">/</tspan><tspan x="63.7" y="0">d</tspan><tspan class="i" x="79.4" y="0">t</tspan></text>
<rect x="413.5" y="300.4" width="134.2" height="45.1" fill="#fff" stroke="#505050" stroke-width="1.1"/>
<path d="M419 310.7H458.8" stroke="#0072BD" stroke-width="2" fill="none"/>
<path d="M419 332.5H458.8" stroke="#D95319" stroke-width="2" fill="none"/>
<text class="lg i" x="469.3" y="317.1">R</text>
<text class="lg" x="479.3" y="322.2" style="font-size:19px">∞</text>
<text class="lg" x="495.4" y="318.9" style="font-size:19.6px" textLength="15.6" lengthAdjust="spacingAndGlyphs">=</text>
<text class="lg" x="514.3" y="317.1">50</text>
<text class="lg i" x="469.3" y="338.3">R</text>
<text class="lg" x="479.3" y="343.4" style="font-size:19px">∞</text>
<text class="lg" x="495.4" y="340.1" style="font-size:19.6px" textLength="15.6" lengthAdjust="spacingAndGlyphs">=</text>
<text class="lg" x="515.0" y="338.3">100</text>
<!-- panel b -->
<rect x="732.40" y="14.50" width="443.35" height="343.40" fill="none" stroke="#707070" stroke-width="1"/>
<path d="M806.29 357.90v-4.40M806.29 14.50v4.40M880.18 357.90v-4.40M880.18 14.50v4.40M954.08 357.90v-4.40M954.08 14.50v4.40M1027.97 357.90v-4.40M1027.97 14.50v4.40M1101.86 357.90v-4.40M1101.86 14.50v4.40M732.40 300.67h4.40M1175.75 300.67h-4.40M732.40 243.43h4.40M1175.75 243.43h-4.40M732.40 186.20h4.40M1175.75 186.20h-4.40M732.40 128.97h4.40M1175.75 128.97h-4.40M732.40 71.73h4.40M1175.75 71.73h-4.40" fill="none" stroke="#707070" stroke-width="1"/>
<g clip-path="url(#cb)">
<path class="c" style="stroke-width:1.6" stroke="#0072BD" d="M732.60 357.90L732.60 346.87L732.61 336.12L732.63 325.67L732.64 315.49L732.67 305.61L732.69 296.01L732.72 286.70L732.74 277.67L732.78 268.93L732.82 260.48L732.87 252.32L732.93 244.44L732.99 236.84L733.07 229.54L733.14 222.52L733.23 215.79L733.34 209.34L733.46 203.18L733.60 197.30L733.75 191.72L733.91 186.42L734.08 181.40L734.26 176.67L734.45 172.23L734.65 168.08L734.87 164.21L735.12 160.63L735.41 157.33L735.70 154.33L736.01 151.60L736.30 149.17L736.59 147.02L736.88 145.16L737.16 143.58L737.36 142.29L737.55 141.29L737.72 140.57L737.85 140.14L737.95 140.00L738.95 140.70L740.15 144.30L740.45 150.89L740.74 157.48L741.01 164.07L741.24 170.66L741.46 177.25L741.67 183.84L741.87 190.43L742.06 197.02L742.24 203.61L742.40 210.19L742.54 216.78L742.68 223.37L742.80 229.96L742.91 236.55L743.02 243.14L743.12 249.73L743.21 256.32L743.29 262.91L743.35 269.50L743.61 265.50L743.86 261.49L744.11 257.49L744.35 253.48L744.58 249.48L744.81 245.48L745.03 241.47L745.24 237.47L745.45 233.46L745.66 229.46L745.87 225.46L746.08 221.45L746.28 217.45L746.48 213.44L746.67 209.44L746.88 205.43L747.08 201.43L747.29 197.43L747.51 193.42L747.74 189.42L747.99 185.41L748.26 181.41L748.56 177.41L748.88 173.40L749.22 169.40L749.60 165.39L750.02 161.39L750.48 157.39L750.95 153.38L751.42 149.38L751.90 145.37L752.38 141.37L752.87 137.37L753.38 133.36L753.89 129.36L754.41 125.35L754.94 121.35L755.49 117.34L756.04 113.34L756.58 109.34L757.12 105.33L757.66 101.33L758.24 97.32L758.89 93.32L759.61 89.32L760.54 85.31L761.61 81.31L762.67 77.30L763.75 73.30L765.53 78.97L765.69 84.63L765.76 90.30L765.81 95.96L765.85 101.63L765.88 107.29L765.93 112.96L765.99 118.62L766.05 124.29L766.13 129.96L766.21 135.62L766.29 141.29L766.38 146.95L766.46 152.62L766.54 158.28L766.62 163.95L766.68 169.61L766.75 175.28L766.81 180.94L766.87 186.61L766.93 192.28L766.99 197.94L767.05 203.61L767.10 209.27L767.16 214.94L767.21 220.60L767.26 226.27L767.30 231.93L767.35 237.60L767.50 231.22L767.66 224.97L767.81 218.86L767.96 212.87L768.12 207.02L768.27 201.30L768.42 195.71L768.58 190.25L768.73 184.92L768.88 179.73L769.03 174.66L769.19 169.73L769.34 164.93L769.50 160.26L769.66 155.72L769.80 151.32L769.92 147.04L770.03 142.90L770.13 138.89L770.21 135.01L770.30 131.26L770.38 127.64L770.47 124.16L770.58 120.80L770.69 117.58L770.83 114.49L771.00 111.53L771.22 108.70L771.48 106.01L771.75 103.44L772.01 101.01L772.25 98.71L772.49 96.54L772.73 94.50L772.96 92.59L773.19 90.81L773.43 89.17L773.65 87.66L773.88 86.28L774.10 85.03L774.34 83.91L774.59 82.92L774.85 82.07L775.14 81.34L775.43 80.75L775.74 80.29L776.07 79.96L776.40 79.77L776.75 79.70L777.09 79.75L777.42 79.91L777.75 80.17L778.07 80.54L778.38 81.01L778.69 81.59L778.99 82.28L779.28 83.06L779.55 83.96L779.81 84.96L780.07 86.06L780.34 87.27L780.62 88.58L780.91 90.00L781.24 91.53L781.58 93.16L781.94 94.89L782.30 96.73L782.67 98.68L783.04 100.73L783.44 102.88L783.85 105.14L784.26 107.51L784.65 109.98L784.99 112.56L785.27 115.24L785.52 118.02L785.75 120.92L785.96 123.91L786.15 127.01L786.34 130.22L786.52 133.53L786.70 136.95L786.88 140.47L787.06 144.10L787.25 147.83L787.45 151.67L787.66 155.61L787.88 159.66L788.08 163.81L788.27 168.07L788.44 172.44L788.62 176.90L788.79 181.48L788.96 186.16L789.11 190.94L789.26 195.83L789.39 200.82L789.49 205.92L789.57 211.13L789.65 216.44L789.75 221.85L789.89 227.37L790.06 233.00L790.26 238.73L790.50 244.56L790.75 250.50L791.04 256.55L791.35 262.70L791.64 258.83L791.90 254.97L792.10 251.10L792.25 247.24L792.35 243.37L792.44 239.51L792.52 235.64L792.60 231.78L792.68 227.91L792.78 224.05L792.92 220.18L793.09 216.32L793.29 212.45L793.50 208.59L793.71 204.72L793.92 200.86L794.12 196.99L794.33 193.12L794.55 189.26L794.79 185.39L795.04 181.53L795.30 177.66L795.58 173.80L795.89 169.93L796.23 166.07L796.62 162.20L797.06 158.34L797.52 154.47L797.98 150.61L798.43 146.74L798.90 142.88L799.37 139.01L799.85 135.14L800.34 131.28L800.85 127.41L801.36 123.55L801.88 119.68L802.40 115.82L802.92 111.95L803.41 108.09L803.88 104.22L804.37 100.36L804.89 96.49L805.47 92.63L806.13 88.76L806.99 84.90L807.95 81.03L808.88 77.17L809.85 73.30L811.70 78.43L811.88 83.57L811.95 88.70L812.01 93.84L812.05 98.97L812.08 104.11L812.11 109.24L812.16 114.38L812.22 119.51L812.28 124.64L812.35 129.78L812.43 134.91L812.51 140.05L812.58 145.18L812.66 150.32L812.74 155.45L812.82 160.59L812.89 165.72L812.97 170.86L813.04 175.99L813.11 181.12L813.18 186.26L813.25 191.39L813.31 196.53L813.38 201.66L813.45 206.80L813.52 211.93L813.58 217.07L813.65 222.20L813.85 216.44L814.05 210.80L814.25 205.29L814.44 199.88L814.62 194.60L814.80 189.44L814.97 184.39L815.14 179.47L815.31 174.66L815.47 169.97L815.63 165.40L815.78 160.95L815.93 156.62L816.07 152.40L816.19 148.31L816.30 144.33L816.39 140.47L816.48 136.74L816.56 133.12L816.64 129.61L816.72 126.23L816.81 122.97L816.91 119.82L817.02 116.79L817.16 113.89L817.33 111.10L817.55 108.43L817.79 105.87L818.05 103.44L818.30 101.13L818.53 98.93L818.76 96.85L818.98 94.89L819.20 93.05L819.42 91.33L819.65 89.73L819.86 88.25L820.08 86.88L820.29 85.64L820.51 84.51L820.73 83.50L820.98 82.61L821.24 81.84L821.51 81.18L821.79 80.65L822.09 80.23L822.40 79.94L822.72 79.76L823.05 79.70L823.40 79.76L823.75 79.93L824.09 80.22L824.42 80.62L824.75 81.13L825.07 81.76L825.38 82.51L825.68 83.36L825.96 84.34L826.23 85.43L826.50 86.63L826.78 87.94L827.08 89.38L827.41 90.92L827.76 92.58L828.13 94.36L828.50 96.25L828.89 98.25L829.27 100.37L829.68 102.60L830.12 104.95L830.55 107.41L830.95 109.99L831.31 112.68L831.59 115.48L831.85 118.40L832.09 121.44L832.30 124.59L832.50 127.85L832.70 131.23L832.88 134.72L833.07 138.33L833.26 142.05L833.45 145.89L833.66 149.84L833.87 153.90L834.09 158.08L834.31 162.37L834.51 166.78L834.70 171.31L834.88 175.94L835.07 180.70L835.24 185.56L835.40 190.54L835.55 195.64L835.69 200.85L835.80 206.17L835.89 211.61L835.97 217.17L836.07 222.83L836.20 228.62L836.33 234.51L836.48 240.53L836.64 246.65L836.82 252.89L837.01 259.25L837.21 265.72L837.42 272.30L837.65 279.00L837.77 274.81L837.89 270.61L838.01 266.42L838.12 262.22L838.24 258.03L838.35 253.84L838.46 249.64L838.56 245.45L838.66 241.26L838.75 237.06L838.84 232.87L838.95 228.67L839.07 224.48L839.21 220.29L839.40 216.09L839.62 211.90L839.85 207.70L840.08 203.51L840.30 199.32L840.52 195.12L840.75 190.93L841.00 186.73L841.27 182.54L841.55 178.35L841.85 174.15L842.18 169.96L842.56 165.77L842.99 161.57L843.47 157.38L843.97 153.18L844.47 148.99L844.97 144.80L845.47 140.60L845.99 136.41L846.52 132.21L847.07 128.02L847.62 123.83L848.19 119.63L848.75 115.44L849.31 111.24L849.84 107.05L850.36 102.86L850.91 98.66L851.51 94.47L852.20 90.28L853.05 86.08L854.08 81.89L855.10 77.69L856.15 73.50L857.86 77.80L858.03 82.10L858.11 86.40L858.16 90.70L858.20 95.00L858.23 99.30L858.26 103.60L858.28 107.90L858.32 112.20L858.36 116.50L858.41 120.80L858.45 125.10L858.50 129.40L858.55 133.70L858.61 138.00L858.67 142.30L858.72 146.60L858.79 150.90L858.85 155.20L858.92 159.50L858.99 163.80L859.06 168.10L859.14 172.40L859.23 176.70L859.32 181.00L859.42 185.30L859.53 189.60L859.64 193.90L859.75 198.20L860.18 193.41L860.57 188.72L860.94 184.13L861.26 179.64L861.55 175.25L861.79 170.96L861.99 166.76L862.15 162.66L862.28 158.67L862.40 154.77L862.51 150.97L862.62 147.27L862.71 143.66L862.80 140.16L862.88 136.75L862.95 133.45L863.02 130.24L863.10 127.13L863.18 124.12L863.26 121.21L863.36 118.39L863.47 115.68L863.60 113.06L863.77 110.55L863.97 108.13L864.20 105.81L864.43 103.59L864.66 101.47L864.88 99.44L865.08 97.52L865.29 95.69L865.49 93.96L865.69 92.33L865.89 90.80L866.10 89.37L866.29 88.04L866.49 86.81L866.68 85.67L866.88 84.64L867.08 83.70L867.30 82.86L867.54 82.12L867.78 81.48L868.03 80.93L868.30 80.49L868.57 80.14L868.86 79.90L869.15 79.75L869.45 79.70L869.82 79.76L870.18 79.95L870.54 80.27L870.89 80.71L871.23 81.28L871.56 81.97L871.88 82.79L872.19 83.74L872.48 84.81L872.76 86.01L873.05 87.33L873.36 88.78L873.69 90.36L874.05 92.06L874.43 93.89L874.83 95.85L875.23 97.93L875.63 100.14L876.06 102.47L876.51 104.93L876.97 107.52L877.39 110.23L877.75 113.07L878.05 116.04L878.31 119.13L878.55 122.35L878.77 125.69L878.98 129.16L879.18 132.75L879.38 136.48L879.57 140.32L879.77 144.30L879.98 148.40L880.21 152.63L880.44 156.98L880.66 161.46L880.88 166.06L881.08 170.80L881.27 175.65L881.46 180.64L881.65 185.75L881.82 190.98L881.97 196.34L882.11 201.83L882.22 207.45L882.32 213.19L882.41 219.06L882.51 225.05L882.62 231.17L882.73 237.41L882.84 243.78L882.95 250.28L883.07 256.91L883.19 263.66L883.32 270.53L883.45 277.54L883.58 284.66L883.71 291.92L883.85 299.30L883.96 294.71L884.06 290.12L884.15 285.52L884.23 280.93L884.31 276.34L884.37 271.75L884.42 267.16L884.47 262.57L884.53 257.97L884.60 253.38L884.67 248.79L884.76 244.20L884.86 239.61L884.97 235.01L885.09 230.42L885.22 225.83L885.38 221.24L885.57 216.65L885.81 212.06L886.06 207.46L886.31 202.87L886.55 198.28L886.80 193.69L887.06 189.10L887.34 184.50L887.64 179.91L887.97 175.32L888.32 170.73L888.72 166.14L889.20 161.54L889.72 156.95L890.27 152.36L890.81 147.77L891.36 143.18L891.92 138.59L892.50 133.99L893.08 129.40L893.69 124.81L894.30 120.22L894.93 115.63L895.55 111.03L896.13 106.44L896.73 101.85L897.36 97.26L898.08 92.67L898.93 88.08L900.02 83.48L901.12 78.89L902.25 74.30L904.34 78.03L904.47 81.77L904.54 85.50L904.60 89.24L904.66 92.97L904.72 96.71L904.77 100.44L904.81 104.18L904.86 107.91L904.90 111.64L904.95 115.38L905.00 119.11L905.03 122.85L905.07 126.58L905.09 130.32L905.12 134.05L905.15 137.79L905.17 141.52L905.20 145.26L905.24 148.99L905.28 152.72L905.33 156.46L905.39 160.19L905.47 163.93L905.55 167.66L905.65 171.40L906.11 175.13L906.99 178.87L907.95 182.60L908.13 178.44L908.29 174.37L908.45 170.39L908.59 166.49L908.73 162.67L908.86 158.94L908.98 155.30L909.09 151.74L909.19 148.27L909.28 144.89L909.36 141.59L909.44 138.37L909.51 135.24L909.58 132.20L909.65 129.24L909.72 126.37L909.79 123.59L909.87 120.89L909.96 118.27L910.07 115.74L910.19 113.30L910.34 110.94L910.52 108.67L910.73 106.49L910.95 104.39L911.16 102.37L911.37 100.44L911.57 98.60L911.76 96.84L911.95 95.17L912.14 93.59L912.32 92.09L912.51 90.67L912.70 89.34L912.89 88.10L913.07 86.94L913.25 85.87L913.43 84.89L913.62 83.99L913.82 83.17L914.03 82.44L914.25 81.80L914.48 81.24L914.72 80.77L914.97 80.39L915.23 80.09L915.49 79.87L915.77 79.74L916.05 79.70L916.43 79.77L916.81 79.97L917.17 80.30L917.53 80.77L917.88 81.37L918.22 82.11L918.55 82.97L918.86 83.98L919.15 85.11L919.45 86.38L919.75 87.79L920.07 89.32L920.42 90.99L920.80 92.80L921.20 94.73L921.61 96.81L922.03 99.01L922.45 101.35L922.91 103.82L923.38 106.43L923.83 109.17L924.23 112.04L924.55 115.05L924.83 118.19L925.09 121.46L925.32 124.87L925.54 128.41L925.74 132.09L925.95 135.90L926.15 139.84L926.35 143.91L926.57 148.12L926.80 152.47L927.03 156.94L927.27 161.55L927.49 166.30L927.69 171.18L927.89 176.19L928.09 181.33L928.27 186.61L928.45 192.02L928.60 197.57L928.74 203.25L928.85 209.06L928.95 215.01L929.04 221.09L929.13 227.31L929.22 233.65L929.30 240.13L929.39 246.75L929.47 253.50L929.55 260.38L929.63 267.40L929.71 274.55L929.78 281.83L929.86 289.25L929.92 296.80L929.99 304.48L930.05 312.30L930.11 307.43L930.17 302.57L930.23 297.70L930.29 292.83L930.35 287.96L930.41 283.10L930.47 278.23L930.53 273.36L930.59 268.49L930.65 263.63L930.71 258.76L930.79 253.89L930.87 249.02L930.96 244.16L931.06 239.29L931.18 234.42L931.31 229.56L931.46 224.69L931.63 219.82L931.86 214.95L932.12 210.09L932.39 205.22L932.64 200.35L932.90 195.48L933.17 190.62L933.47 185.75L933.78 180.88L934.11 176.01L934.49 171.15L934.91 166.28L935.41 161.41L935.97 156.54L936.55 151.68L937.12 146.81L937.71 141.94L938.31 137.08L938.92 132.21L939.55 127.34L940.18 122.47L940.84 117.61L941.53 112.74L942.24 107.87L942.96 103.00L943.73 98.14L944.60 93.27L945.62 88.40L946.95 83.53L948.34 78.67L949.75 73.80L951.74 78.06L951.95 82.32L952.03 86.59L952.10 90.85L952.14 95.11L952.18 99.37L952.21 103.63L952.24 107.90L952.28 112.16L952.32 116.42L952.38 120.68L952.43 124.94L952.49 129.21L952.55 133.47L952.61 137.73L952.67 141.99L952.74 146.26L952.81 150.52L952.89 154.78L952.96 159.04L953.04 163.30L953.13 167.57L953.22 171.83L953.32 176.09L953.44 180.35L953.56 184.61L953.68 188.88L953.81 193.14L953.95 197.40L954.15 192.63L954.35 187.96L954.54 183.39L954.71 178.92L954.88 174.55L955.05 170.27L955.20 166.09L955.34 162.01L955.48 158.03L955.60 154.15L955.72 150.37L955.83 146.68L955.92 143.09L956.00 139.60L956.08 136.21L956.15 132.92L956.23 129.73L956.30 126.63L956.38 123.63L956.47 120.73L956.57 117.93L956.68 115.23L956.81 112.62L956.98 110.12L957.18 107.71L957.41 105.40L957.64 103.19L957.87 101.07L958.09 99.06L958.29 97.14L958.49 95.32L958.70 93.60L958.90 91.98L959.10 90.46L959.30 89.03L959.50 87.71L959.69 86.48L959.89 85.35L960.08 84.31L960.29 83.38L960.51 82.55L960.74 81.81L960.98 81.17L961.24 80.63L961.50 80.19L961.77 79.84L962.06 79.60L962.35 79.45L962.65 79.40L963.03 79.47L963.40 79.67L963.77 80.00L964.12 80.46L964.47 81.06L964.81 81.79L965.14 82.65L965.45 83.64L965.74 84.77L966.03 86.03L966.33 87.42L966.65 88.95L967.01 90.61L967.38 92.40L967.78 94.32L968.19 96.37L968.60 98.56L969.02 100.88L969.48 103.34L969.94 105.92L970.39 108.64L970.80 111.49L971.13 114.47L971.41 117.59L971.66 120.84L971.90 124.22L972.12 127.73L972.32 131.38L972.52 135.16L972.72 139.07L972.93 143.12L973.14 147.29L973.37 151.60L973.60 156.05L973.84 160.62L974.06 165.33L974.26 170.17L974.46 175.14L974.66 180.25L974.85 185.48L975.02 190.85L975.18 196.36L975.32 201.99L975.44 207.76L975.55 213.66L975.63 219.70L975.69 225.86L975.75 232.16L975.81 238.59L975.87 245.16L975.92 251.85L975.97 258.68L976.01 265.64L976.05 272.74L976.09 279.97L976.11 287.33L976.13 294.82L976.15 302.44L976.15 310.20L976.21 305.36L976.28 300.52L976.34 295.68L976.41 290.84L976.47 286.01L976.53 281.17L976.60 276.33L976.66 271.49L976.71 266.65L976.77 261.81L976.84 256.97L976.91 252.13L977.00 247.30L977.09 242.46L977.20 237.62L977.32 232.78L977.46 227.94L977.61 223.10L977.80 218.26L978.04 213.42L978.30 208.59L978.56 203.75L978.82 198.91L979.08 194.07L979.35 189.23L979.65 184.39L979.97 179.55L980.31 174.71L980.69 169.88L981.13 165.04L981.65 160.20L982.21 155.36L982.79 150.52L983.36 145.68L983.94 140.84L984.54 136.00L985.16 131.17L985.77 126.33L986.40 121.49L987.07 116.65L987.77 111.81L988.49 106.97L989.24 102.13L990.05 97.29L990.97 92.46L992.04 87.62L993.46 82.78L994.94 77.94L996.45 73.10L998.29 77.97L998.47 82.84L998.54 87.72L998.60 92.59L998.64 97.46L998.67 102.33L998.70 107.21L998.74 112.08L998.79 116.95L998.85 121.82L998.91 126.70L998.98 131.57L999.05 136.44L999.12 141.31L999.19 146.19L999.27 151.06L999.35 155.93L999.42 160.80L999.49 165.68L999.57 170.55L999.64 175.42L999.71 180.29L999.79 185.17L999.86 190.04L999.94 194.91L1000.02 199.78L1000.09 204.66L1000.17 209.53L1000.25 214.40L1000.33 208.93L1000.43 203.58L1000.52 198.34L1000.62 193.21L1000.73 188.20L1000.84 183.29L1000.95 178.50L1001.07 173.83L1001.19 169.26L1001.32 164.81L1001.46 160.47L1001.61 156.25L1001.75 152.13L1001.88 148.13L1001.98 144.24L1002.08 140.47L1002.16 136.80L1002.24 133.25L1002.32 129.82L1002.40 126.49L1002.48 123.28L1002.58 120.18L1002.68 117.19L1002.81 114.32L1002.96 111.56L1003.15 108.91L1003.38 106.37L1003.63 103.95L1003.88 101.64L1004.11 99.44L1004.33 97.36L1004.55 95.39L1004.77 93.53L1004.99 91.78L1005.20 90.14L1005.42 88.62L1005.63 87.21L1005.84 85.92L1006.04 84.74L1006.26 83.66L1006.48 82.71L1006.72 81.86L1006.98 81.13L1007.25 80.51L1007.52 80.00L1007.81 79.61L1008.12 79.33L1008.43 79.16L1008.75 79.10L1009.12 79.16L1009.48 79.35L1009.84 79.67L1010.19 80.11L1010.53 80.67L1010.86 81.36L1011.18 82.18L1011.49 83.13L1011.77 84.20L1012.06 85.39L1012.35 86.71L1012.65 88.16L1012.98 89.73L1013.34 91.43L1013.72 93.26L1014.12 95.21L1014.52 97.28L1014.92 99.48L1015.35 101.81L1015.80 104.27L1016.25 106.84L1016.68 109.55L1017.04 112.38L1017.34 115.34L1017.60 118.42L1017.84 121.63L1018.06 124.96L1018.27 128.42L1018.47 132.01L1018.67 135.72L1018.86 139.56L1019.06 143.52L1019.27 147.61L1019.50 151.83L1019.73 156.17L1019.95 160.64L1020.17 165.23L1020.37 169.95L1020.56 174.79L1020.75 179.76L1020.94 184.86L1021.11 190.08L1021.26 195.43L1021.40 200.90L1021.52 206.50L1021.63 212.22L1021.72 218.07L1021.78 224.05L1021.83 230.15L1021.88 236.38L1021.93 242.74L1021.98 249.22L1022.02 255.82L1022.06 262.55L1022.09 269.41L1022.11 276.40L1022.13 283.50L1022.15 290.74L1022.15 298.10L1022.26 293.50L1022.37 288.90L1022.47 284.31L1022.55 279.71L1022.62 275.11L1022.68 270.51L1022.74 265.91L1022.79 261.32L1022.85 256.72L1022.91 252.12L1022.99 247.52L1023.08 242.92L1023.19 238.33L1023.30 233.73L1023.43 229.13L1023.57 224.53L1023.73 219.93L1023.94 215.34L1024.18 210.74L1024.44 206.14L1024.68 201.54L1024.92 196.94L1025.17 192.35L1025.44 187.75L1025.73 183.15L1026.04 178.55L1026.37 173.96L1026.73 169.36L1027.16 164.76L1027.65 160.16L1028.19 155.56L1028.74 150.97L1029.28 146.37L1029.83 141.77L1030.40 137.17L1030.98 132.57L1031.56 127.98L1032.15 123.38L1032.77 118.78L1033.42 114.18L1034.11 109.58L1034.81 104.99L1035.55 100.39L1036.37 95.79L1037.29 91.19L1038.39 86.59L1039.82 82.00L1041.27 77.40L1042.75 72.80L1044.52 78.24L1044.68 83.69L1044.75 89.13L1044.80 94.58L1044.84 100.02L1044.87 105.47L1044.91 110.91L1044.97 116.36L1045.03 121.80L1045.10 127.25L1045.17 132.69L1045.25 138.14L1045.33 143.58L1045.41 149.03L1045.49 154.47L1045.57 159.92L1045.64 165.36L1045.71 170.81L1045.77 176.25L1045.83 181.70L1045.90 187.14L1045.96 192.59L1046.02 198.03L1046.08 203.48L1046.13 208.92L1046.19 214.37L1046.24 219.81L1046.30 225.26L1046.35 230.70L1046.49 224.56L1046.64 218.55L1046.78 212.67L1046.92 206.91L1047.07 201.28L1047.21 195.78L1047.36 190.40L1047.51 185.15L1047.65 180.02L1047.80 175.03L1047.95 170.16L1048.09 165.41L1048.25 160.79L1048.41 156.30L1048.55 151.93L1048.68 147.70L1048.79 143.58L1048.89 139.60L1048.98 135.74L1049.06 132.01L1049.14 128.40L1049.23 124.92L1049.32 121.57L1049.43 118.34L1049.55 115.24L1049.69 112.27L1049.89 109.42L1050.12 106.70L1050.38 104.11L1050.65 101.64L1050.90 99.30L1051.13 97.08L1051.36 95.00L1051.59 93.03L1051.82 91.20L1052.05 89.49L1052.28 87.91L1052.50 86.46L1052.72 85.13L1052.94 83.92L1053.17 82.85L1053.42 81.90L1053.69 81.08L1053.96 80.38L1054.26 79.81L1054.56 79.37L1054.88 79.05L1055.21 78.86L1055.55 78.80L1055.90 78.86L1056.25 79.03L1056.59 79.32L1056.92 79.72L1057.25 80.23L1057.57 80.86L1057.88 81.61L1058.18 82.47L1058.46 83.44L1058.73 84.53L1059.00 85.73L1059.28 87.05L1059.58 88.48L1059.91 90.03L1060.26 91.69L1060.63 93.46L1061.01 95.35L1061.39 97.36L1061.77 99.48L1062.19 101.71L1062.62 104.06L1063.05 106.52L1063.45 109.10L1063.81 111.79L1064.10 114.60L1064.35 117.52L1064.59 120.56L1064.80 123.71L1065.01 126.97L1065.20 130.35L1065.39 133.85L1065.57 137.46L1065.76 141.18L1065.95 145.02L1066.16 148.97L1066.38 153.04L1066.60 157.22L1066.81 161.52L1067.01 165.93L1067.21 170.45L1067.41 175.09L1067.62 179.85L1067.82 184.72L1067.99 189.70L1068.12 194.80L1068.19 200.01L1068.20 205.34L1068.20 210.78L1068.20 216.34L1068.20 222.01L1068.21 227.79L1068.22 233.69L1068.25 239.71L1068.28 245.84L1068.32 252.08L1068.37 258.44L1068.43 264.91L1068.49 271.50L1068.55 278.20L1068.68 274.01L1068.80 269.81L1068.92 265.62L1069.04 261.42L1069.15 257.23L1069.27 253.04L1069.38 248.84L1069.48 244.65L1069.58 240.46L1069.67 236.26L1069.76 232.07L1069.87 227.87L1069.99 223.68L1070.15 219.49L1070.34 215.29L1070.56 211.10L1070.79 206.90L1071.02 202.71L1071.24 198.52L1071.46 194.32L1071.70 190.13L1071.95 185.93L1072.22 181.74L1072.51 177.55L1072.81 173.35L1073.15 169.16L1073.54 164.97L1073.98 160.77L1074.47 156.58L1074.97 152.38L1075.46 148.19L1075.96 144.00L1076.47 139.80L1076.99 135.61L1077.52 131.41L1078.06 127.22L1078.60 123.03L1079.16 118.83L1079.76 114.64L1080.38 110.44L1081.00 106.25L1081.65 102.06L1082.35 97.86L1083.13 93.67L1084.00 89.48L1085.09 85.28L1086.41 81.09L1087.71 76.89L1089.05 72.70L1090.88 78.34L1091.04 83.99L1091.11 89.63L1091.17 95.28L1091.20 100.92L1091.24 106.57L1091.29 112.21L1091.35 117.86L1091.42 123.50L1091.49 129.15L1091.58 134.79L1091.66 140.44L1091.75 146.08L1091.83 151.73L1091.91 157.37L1091.99 163.02L1092.06 168.66L1092.13 174.31L1092.19 179.95L1092.26 185.60L1092.32 191.24L1092.38 196.89L1092.44 202.53L1092.49 208.18L1092.55 213.82L1092.60 219.47L1092.65 225.11L1092.70 230.76L1092.75 236.40L1092.86 230.02L1092.98 223.78L1093.10 217.67L1093.22 211.69L1093.35 205.84L1093.48 200.12L1093.61 194.53L1093.74 189.08L1093.88 183.76L1094.01 178.56L1094.15 173.50L1094.29 168.57L1094.44 163.78L1094.60 159.11L1094.76 154.58L1094.90 150.17L1095.03 145.90L1095.13 141.76L1095.23 137.75L1095.31 133.87L1095.40 130.13L1095.48 126.51L1095.58 123.03L1095.68 119.68L1095.79 116.46L1095.93 113.37L1096.10 110.41L1096.32 107.58L1096.58 104.89L1096.85 102.33L1097.11 99.89L1097.36 97.59L1097.59 95.42L1097.83 93.39L1098.06 91.48L1098.29 89.71L1098.53 88.06L1098.75 86.55L1098.98 85.17L1099.20 83.92L1099.44 82.81L1099.69 81.82L1099.95 80.97L1100.24 80.24L1100.53 79.65L1100.84 79.19L1101.17 78.86L1101.50 78.67L1101.85 78.60L1102.18 78.65L1102.51 78.80L1102.83 79.06L1103.14 79.41L1103.45 79.86L1103.75 80.42L1104.05 81.08L1104.33 81.84L1104.61 82.70L1104.87 83.66L1105.12 84.72L1105.38 85.88L1105.64 87.15L1105.93 88.52L1106.24 89.98L1106.57 91.55L1106.92 93.22L1107.27 94.99L1107.63 96.86L1107.99 98.84L1108.37 100.91L1108.78 103.09L1109.19 105.36L1109.58 107.74L1109.94 110.22L1110.24 112.80L1110.49 115.48L1110.73 118.26L1110.94 121.15L1111.14 124.13L1111.33 127.22L1111.51 130.40L1111.69 133.69L1111.86 137.08L1112.04 140.57L1112.22 144.16L1112.41 147.86L1112.62 151.65L1112.84 155.55L1113.05 159.54L1113.24 163.64L1113.39 167.84L1113.53 172.14L1113.66 176.54L1113.79 181.04L1113.90 185.65L1113.99 190.35L1114.06 195.16L1114.09 200.06L1114.10 205.07L1114.10 210.18L1114.10 215.39L1114.10 220.70L1114.11 226.12L1114.15 231.63L1114.20 237.25L1114.28 242.96L1114.36 248.78L1114.45 254.70L1115.65 252.50L1116.85 254.30L1116.86 250.59L1116.89 246.88L1116.94 243.18L1117.00 239.47L1117.07 235.76L1117.15 232.05L1117.25 228.34L1117.36 224.63L1117.47 220.93L1117.59 217.22L1117.72 213.51L1117.84 209.80L1117.98 206.09L1118.11 202.39L1118.29 198.68L1118.49 194.97L1118.72 191.26L1118.95 187.55L1119.19 183.84L1119.43 180.14L1119.68 176.43L1119.96 172.72L1120.26 169.01L1120.60 165.30L1120.99 161.60L1121.41 157.89L1121.86 154.18L1122.29 150.47L1122.73 146.76L1123.17 143.06L1123.63 139.35L1124.09 135.64L1124.56 131.93L1125.03 128.22L1125.52 124.51L1126.01 120.81L1126.51 117.10L1127.04 113.39L1127.55 109.68L1128.06 105.97L1128.58 102.27L1129.13 98.56L1129.73 94.85L1130.40 91.14L1131.16 87.43L1132.14 83.72L1133.22 80.02L1134.27 76.31L1135.35 72.60L1137.02 77.94L1137.17 83.29L1137.24 88.63L1137.29 93.98L1137.32 99.32L1137.35 104.67L1137.39 110.01L1137.43 115.36L1137.49 120.70L1137.56 126.05L1137.62 131.39L1137.69 136.74L1137.77 142.08L1137.84 147.43L1137.92 152.77L1137.99 158.12L1138.06 163.46L1138.12 168.81L1138.18 174.15L1138.24 179.50L1138.30 184.84L1138.36 190.19L1138.42 195.53L1138.48 200.88L1138.53 206.22L1138.59 211.57L1138.64 216.91L1138.70 222.26L1138.75 227.60L1138.96 221.57L1139.16 215.67L1139.36 209.89L1139.56 204.24L1139.75 198.70L1139.93 193.30L1140.11 188.02L1140.29 182.86L1140.46 177.83L1140.63 172.92L1140.79 168.13L1140.95 163.47L1141.11 158.93L1141.26 154.52L1141.39 150.23L1141.52 146.07L1141.62 142.03L1141.71 138.12L1141.80 134.33L1141.88 130.66L1141.96 127.12L1142.05 123.70L1142.15 120.41L1142.25 117.24L1142.38 114.19L1142.53 111.27L1142.73 108.48L1142.97 105.80L1143.23 103.26L1143.49 100.83L1143.74 98.53L1143.97 96.36L1144.20 94.31L1144.42 92.38L1144.65 90.58L1144.88 88.90L1145.10 87.35L1145.32 85.92L1145.54 84.61L1145.76 83.43L1145.99 82.38L1146.24 81.44L1146.50 80.64L1146.78 79.95L1147.07 79.39L1147.37 78.96L1147.69 78.65L1148.01 78.46L1148.35 78.40L1148.70 78.45L1149.03 78.62L1149.37 78.89L1149.69 79.27L1150.01 79.76L1150.32 80.36L1150.63 81.07L1150.92 81.89L1151.20 82.82L1151.46 83.86L1151.73 85.00L1152.00 86.26L1152.29 87.62L1152.60 89.10L1152.93 90.68L1153.29 92.37L1153.65 94.17L1154.02 96.08L1154.40 98.10L1154.78 100.23L1155.20 102.47L1155.63 104.82L1156.04 107.27L1156.41 109.84L1156.73 112.51L1157.00 115.30L1157.24 118.19L1157.46 121.19L1157.67 124.30L1157.86 127.52L1158.05 130.85L1158.23 134.29L1158.41 137.84L1158.60 141.50L1158.79 145.26L1158.99 149.14L1159.20 153.12L1159.42 157.22L1159.63 161.42L1159.82 165.73L1160.00 170.15L1160.19 174.68L1160.36 179.32L1160.53 184.07L1160.69 188.93L1160.84 193.90L1160.97 198.97L1161.09 204.16L1161.17 209.45L1161.25 214.86L1161.35 220.37L1161.48 225.99L1161.63 231.72L1161.80 237.56L1161.99 243.51L1162.20 249.57L1162.43 255.74L1162.68 262.91L1162.95 269.30L1163.17 264.98L1163.38 259.76L1163.56 255.45L1163.72 251.13L1163.84 246.81L1163.93 242.49L1164.01 238.17L1164.09 233.86L1164.17 229.54L1164.26 225.22L1164.38 220.90L1164.55 216.58L1164.75 212.27L1164.96 207.95L1165.17 203.63L1165.37 199.31L1165.58 194.99L1165.80 190.68L1166.03 186.36L1166.27 182.04L1166.52 177.72L1166.78 173.41L1167.07 169.09L1167.40 164.77L1167.76 160.45L1168.16 156.13L1168.57 151.82L1169.00 147.50L1169.44 143.18L1169.91 138.86L1170.42 134.54L1171.00 130.23L1171.68 125.91L1172.43 121.59L1173.19 117.27L1173.92 112.95L1174.63 108.64L1175.34 104.32L1176.05 100.00"/>
<path class="c" style="stroke-width:1.8" stroke="#D95319" d="M732.60 357.90L732.60 346.87L732.61 336.12L732.63 325.67L732.64 315.49L732.67 305.61L732.69 296.01L732.72 286.70L732.74 277.67L732.78 268.93L732.82 260.48L732.87 252.32L732.93 244.44L732.99 236.84L733.07 229.54L733.14 222.52L733.23 215.79L733.34 209.34L733.46 203.18L733.60 197.30L733.75 191.72L733.91 186.42L734.08 181.40L734.26 176.67L734.45 172.23L734.65 168.08L734.87 164.21L735.12 160.63L735.41 157.33L735.70 154.33L736.01 151.60L736.30 149.17L736.59 147.02L736.88 145.16L737.16 143.58L737.36 142.29L737.55 141.29L737.72 140.57L737.85 140.14L737.95 140.00L738.95 140.70L740.15 144.30L740.45 150.89L740.74 157.48L741.01 164.07L741.24 170.66L741.46 177.25L741.67 183.84L741.87 190.43L742.06 197.02L742.24 203.61L742.40 210.19L742.54 216.78L742.68 223.37L742.80 229.96L742.91 236.55L743.02 243.14L743.12 249.73L743.21 256.32L743.29 262.91L743.35 269.50L743.61 265.50L743.86 261.49L744.11 257.49L744.35 253.48L744.58 249.48L744.81 245.48L745.03 241.47L745.24 237.47L745.45 233.46L745.66 229.46L745.87 225.46L746.08 221.45L746.28 217.45L746.48 213.44L746.67 209.44L746.88 205.43L747.08 201.43L747.29 197.43L747.51 193.42L747.74 189.42L747.99 185.41L748.26 181.41L748.56 177.41L748.88 173.40L749.22 169.40L749.60 165.39L750.02 161.39L750.48 157.39L750.95 153.38L751.42 149.38L751.90 145.37L752.38 141.37L752.87 137.37L753.38 133.36L753.89 129.36L754.41 125.35L754.94 121.35L755.49 117.34L756.04 113.34L756.58 109.34L757.12 105.33L757.66 101.33L758.24 97.32L758.89 93.32L759.61 89.32L760.54 85.31L761.61 81.31L762.67 77.30L763.75 73.30L765.53 78.97L765.69 84.63L765.76 90.30L765.81 95.96L765.85 101.63L765.88 107.29L765.93 112.96L765.99 118.62L766.05 124.29L766.13 129.96L766.21 135.62L766.29 141.29L766.38 146.95L766.46 152.62L766.54 158.28L766.62 163.95L766.68 169.61L766.75 175.28L766.81 180.94L766.87 186.61L766.93 192.28L766.99 197.94L767.05 203.61L767.10 209.27L767.16 214.94L767.21 220.60L767.26 226.27L767.30 231.93L767.35 237.60L767.50 231.22L767.66 224.97L767.81 218.86L767.96 212.87L768.12 207.02L768.27 201.30L768.42 195.71L768.58 190.25L768.73 184.92L768.88 179.73L769.03 174.66L769.19 169.73L769.34 164.93L769.50 160.26L769.66 155.72L769.80 151.32L769.92 147.04L770.03 142.90L770.13 138.89L770.21 135.01L770.30 131.26L770.38 127.64L770.47 124.16L770.58 120.80L770.69 117.58L770.83 114.49L771.00 111.53L771.22 108.70L771.48 106.01L771.75 103.44L772.01 101.01L772.25 98.71L772.49 96.54L772.73 94.50L772.96 92.59L773.19 90.81L773.43 89.17L773.65 87.66L773.88 86.28L774.10 85.03L774.34 83.91L774.59 82.92L774.85 82.07L775.14 81.34L775.43 80.75L775.74 80.29L776.07 79.96L776.40 79.77L776.75 79.70L777.09 79.75L777.42 79.91L777.75 80.17L778.07 80.54L778.38 81.01L778.69 81.59L778.99 82.28L779.28 83.06L779.55 83.96L779.81 84.96L780.07 86.06L780.34 87.27L780.62 88.58L780.91 90.00L781.24 91.53L781.58 93.16L781.94 94.89L782.30 96.73L782.67 98.68L783.04 100.73L783.44 102.88L783.85 105.14L784.26 107.51L784.65 109.98L784.99 112.56L785.27 115.24L785.52 118.02L785.75 120.92L785.96 123.91L786.15 127.01L786.34 130.22L786.52 133.53L786.70 136.95L786.88 140.47L787.06 144.10L787.25 147.83L787.45 151.67L787.66 155.61L787.88 159.66L788.08 163.81L788.27 168.07L788.44 172.44L788.62 176.90L788.79 181.48L788.96 186.16L789.11 190.94L789.26 195.83L789.39 200.82L789.49 205.92L789.57 211.13L789.65 216.44L789.75 221.85L789.89 227.37L790.06 233.00L790.26 238.73L790.50 244.56L790.75 250.50L791.04 256.55L791.35 262.70L791.64 258.83L791.90 254.97L792.10 251.10L792.25 247.24L792.35 243.37L792.44 239.51L792.52 235.64L792.60 231.78L792.68 227.91L792.78 224.05L792.92 220.18L793.09 216.32L793.29 212.45L793.50 208.59L793.71 204.72L793.92 200.86L794.12 196.99L794.33 193.12L794.55 189.26L794.79 185.39L795.04 181.53L795.30 177.66L795.58 173.80L795.89 169.93L796.23 166.07L796.62 162.20L797.06 158.34L797.52 154.47L797.98 150.61L798.43 146.74L798.90 142.88L799.37 139.01L799.85 135.14L800.34 131.28L800.85 127.41L801.36 123.55L801.88 119.68L802.40 115.82L802.92 111.95L803.41 108.09L803.88 104.22L804.37 100.36L804.89 96.49L805.47 92.63L806.13 88.76L806.99 84.90L807.95 81.03L808.88 77.17L809.85 73.30L811.70 78.43L811.88 83.57L811.95 88.70L812.01 93.84L812.05 98.97L812.08 104.11L812.11 109.24L812.16 114.38L812.22 119.51L812.28 124.64L812.35 129.78L812.43 134.91L812.51 140.05L812.58 145.18L812.66 150.32L812.74 155.45L812.82 160.59L812.89 165.72L812.97 170.86L813.04 175.99L813.11 181.12L813.18 186.26L813.25 191.39L813.31 196.53L813.38 201.66L813.45 206.80L813.52 211.93L813.58 217.07L813.65 222.20L813.85 216.44L814.05 210.80L814.25 205.29L814.44 199.88L814.62 194.60L814.80 189.44L814.97 184.39L815.14 179.47L815.31 174.66L815.47 169.97L815.63 165.40L815.78 160.95L815.93 156.62L816.07 152.40L816.19 148.31L816.30 144.33L816.39 140.47L816.48 136.74L816.56 133.12L816.64 129.61L816.72 126.23L816.81 122.97L816.91 119.82L817.02 116.79L817.16 113.89L817.33 111.10L817.55 108.43L817.79 105.87L818.05 103.44L818.30 101.13L818.53 98.93L818.76 96.85L818.98 94.89L819.20 93.05L819.42 91.33L819.65 89.73L819.86 88.25L820.08 86.88L820.29 85.64L820.51 84.51L820.73 83.50L820.98 82.61L821.24 81.84L821.51 81.18L821.79 80.65L822.09 80.23L822.40 79.94L822.72 79.76L823.05 79.70L823.40 79.76L823.75 79.93L824.09 80.22L824.42 80.62L824.75 81.13L825.07 81.76L825.38 82.51L825.68 83.36L825.96 84.34L826.23 85.43L826.50 86.63L826.78 87.94L827.08 89.38L827.41 90.92L827.76 92.58L828.13 94.36L828.50 96.25L828.89 98.25L829.27 100.37L829.68 102.60L830.12 104.95L830.55 107.41L830.95 109.99L831.31 112.68L831.59 115.48L831.85 118.40L832.09 121.44L832.30 124.59L832.50 127.85L832.70 131.23L832.88 134.72L833.07 138.33L833.26 142.05L833.45 145.89L833.66 149.84L833.87 153.90L834.09 158.08L834.31 162.37L834.51 166.78L834.70 171.31L834.88 175.94L835.07 180.70L835.24 185.56L835.40 190.54L835.55 195.64L835.69 200.85L835.80 206.17L835.89 211.61L835.97 217.17L836.07 222.83L836.20 228.62L836.33 234.51L836.48 240.53L836.64 246.65L836.82 252.89L837.01 259.25L837.21 265.72L837.42 272.30L837.65 279.00L837.77 274.81L837.89 270.61L838.01 266.42L838.12 262.22L838.24 258.03L838.35 253.84L838.46 249.64L838.56 245.45L838.66 241.26L838.75 237.06L838.84 232.87L838.95 228.67L839.07 224.48L839.21 220.29L839.40 216.09L839.62 211.90L839.85 207.70L840.08 203.51L840.30 199.32L840.52 195.12L840.75 190.93L841.00 186.73L841.27 182.54L841.55 178.35L841.85 174.15L842.18 169.96L842.56 165.77L842.99 161.57L843.47 157.38L843.97 153.18L844.47 148.99L844.97 144.80L845.47 140.60L845.99 136.41L846.52 132.21L847.07 128.02L847.62 123.83L848.19 119.63L848.75 115.44L849.31 111.24L849.84 107.05L850.36 102.86L850.91 98.66L851.51 94.47L852.20 90.28L853.05 86.08L854.08 81.89L855.10 77.69L856.15 73.50L857.86 77.80L858.03 82.10L858.11 86.40L858.16 90.70L858.20 95.00L858.23 99.30L858.26 103.60L858.28 107.90L858.32 112.20L858.36 116.50L858.41 120.80L858.45 125.10L858.50 129.40L858.55 133.70L858.61 138.00L858.67 142.30L858.72 146.60L858.79 150.90L858.85 155.20L858.92 159.50L858.99 163.80L859.06 168.10L859.14 172.40L859.23 176.70L859.32 181.00L859.42 185.30L859.53 189.60L859.64 193.90L859.75 198.20L860.18 193.41L860.57 188.72L860.94 184.13L861.26 179.64L861.55 175.25L861.79 170.96L861.99 166.76L862.15 162.66L862.28 158.67L862.40 154.77L862.51 150.97L862.62 147.27L862.71 143.66L862.80 140.16L862.88 136.75L862.95 133.45L863.02 130.24L863.10 127.13L863.18 124.12L863.26 121.21L863.36 118.39L863.47 115.68L863.60 113.06L863.77 110.55L863.97 108.13L864.20 105.81L864.43 103.59L864.66 101.47L864.88 99.44L865.08 97.52L865.29 95.69L865.49 93.96L865.69 92.33L865.89 90.80L866.10 89.37L866.29 88.04L866.49 86.81L866.68 85.67L866.88 84.64L867.08 83.70L867.30 82.86L867.54 82.12L867.78 81.48L868.03 80.93L868.30 80.49L868.57 80.14L868.86 79.90L869.15 79.75L869.45 79.70L869.82 79.76L870.18 79.95L870.54 80.27L870.89 80.71L871.23 81.28L871.56 81.97L871.88 82.79L872.19 83.74L872.48 84.81L872.76 86.01L873.05 87.33L873.36 88.78L873.69 90.36L874.05 92.06L874.43 93.89L874.83 95.85L875.23 97.93L875.63 100.14L876.06 102.47L876.51 104.93L876.97 107.52L877.39 110.23L877.75 113.07L878.05 116.04L878.31 119.13L878.55 122.35L878.77 125.69L878.98 129.16L879.18 132.75L879.38 136.48L879.57 140.32L879.77 144.30L879.98 148.40L880.21 152.63L880.44 156.98L880.66 161.46L880.88 166.06L881.08 170.80L881.27 175.65L881.46 180.64L881.65 185.75L881.82 190.98L881.97 196.34L882.11 201.83L882.22 207.45L882.32 213.19L882.41 219.06L882.51 225.05L882.62 231.17L882.73 237.41L882.84 243.78L882.95 250.28L883.07 256.91L883.19 263.66L883.32 270.53L883.45 277.54L883.58 284.66L883.71 291.92L883.85 299.30L883.96 294.71L884.06 290.12L884.15 285.52L884.23 280.93L884.31 276.34L884.37 271.75L884.42 267.16L884.47 262.57L884.53 257.97L884.60 253.38L884.67 248.79L884.76 244.20L884.86 239.61L884.97 235.01L885.09 230.42L885.22 225.83L885.38 221.24L885.57 216.65L885.81 212.06L886.06 207.46L886.31 202.87L886.55 198.28L886.80 193.69L887.06 189.10L887.34 184.50L887.64 179.91L887.97 175.32L888.32 170.73L888.72 166.14L889.20 161.54L889.72 156.95L890.27 152.36L890.81 147.77L891.36 143.18L891.92 138.59L892.50 133.99L893.08 129.40L893.69 124.81L894.30 120.22L894.93 115.63L895.55 111.03L896.13 106.44L896.73 101.85L897.36 97.26L898.08 92.67L898.93 88.08L900.02 83.48L901.12 78.89L902.25 74.30L904.34 78.03L904.47 81.77L904.54 85.50L904.60 89.24L904.66 92.97L904.72 96.71L904.77 100.44L904.81 104.18L904.86 107.91L904.90 111.64L904.95 115.38L905.00 119.11L905.03 122.85L905.07 126.58L905.09 130.32L905.12 134.05L905.15 137.79L905.17 141.52L905.20 145.26L905.24 148.99L905.28 152.72L905.33 156.46L905.39 160.19L905.47 163.93L905.55 167.66L905.65 171.40L906.11 175.13L906.99 178.87L907.95 182.60L908.13 178.44L908.29 174.37L908.45 170.39L908.59 166.49L908.73 162.67L908.86 158.94L908.98 155.30L909.09 151.74L909.19 148.27L909.28 144.89L909.36 141.59L909.44 138.37L909.51 135.24L909.58 132.20L909.65 129.24L909.72 126.37L909.79 123.59L909.87 120.89L909.96 118.27L910.07 115.74L910.19 113.30L910.34 110.94L910.52 108.67L910.73 106.49L910.95 104.39L911.16 102.37L911.37 100.44L911.57 98.60L911.76 96.84L911.95 95.17L912.14 93.59L912.32 92.09L912.51 90.67L912.70 89.34L912.89 88.10L913.07 86.94L913.25 85.87L913.43 84.89L913.62 83.99L913.82 83.17L914.03 82.44L914.25 81.80L914.48 81.24L914.72 80.77L914.97 80.39L915.23 80.09L915.49 79.87L915.77 79.74L916.05 79.70L916.43 79.77L916.81 79.97L917.17 80.30L917.53 80.77L917.88 81.37L918.22 82.11L918.55 82.97L918.86 83.98L919.15 85.11L919.45 86.38L919.75 87.79L920.07 89.32L920.42 90.99L920.80 92.80L921.20 94.73L921.61 96.81L922.03 99.01L922.45 101.35L922.91 103.82L923.38 106.43L923.83 109.17L924.23 112.04L924.55 115.05L924.83 118.19L925.09 121.46L925.32 124.87L925.54 128.41L925.74 132.09L925.95 135.90L926.15 139.84L926.35 143.91L926.57 148.12L926.80 152.47L927.03 156.94L927.27 161.55L927.49 166.30L927.69 171.18L927.89 176.19L928.09 181.33L928.27 186.61L928.45 192.02L928.60 197.57L928.74 203.25L928.85 209.06L928.95 215.01L929.04 221.09L929.13 227.31L929.22 233.65L929.30 240.13L929.39 246.75L929.47 253.50L929.55 260.38L929.63 267.40L929.71 274.55L929.78 281.83L929.86 289.25L929.92 296.80L929.99 304.48L930.05 312.30L930.11 307.43L930.17 302.57L930.23 297.70L930.29 292.83L930.35 287.96L930.41 283.10L930.47 278.23L930.53 273.36L930.59 268.49L930.65 263.63L930.71 258.76L930.79 253.89L930.87 249.02L930.96 244.16L931.06 239.29L931.18 234.42L931.31 229.56L931.46 224.69L931.63 219.82L931.86 214.95L932.12 210.09L932.39 205.22L932.64 200.35L932.90 195.48L933.17 190.62L933.47 185.75L933.78 180.88L934.11 176.01L934.49 171.15L934.91 166.28L935.41 161.41L935.97 156.54L936.55 151.68L937.12 146.81L937.71 141.94L938.31 137.08L938.92 132.21L939.55 127.34L940.18 122.47L940.84 117.61L941.53 112.74L942.24 107.87L942.96 103.00L943.73 98.14L944.60 93.27L945.62 88.40L946.95 83.53L948.34 78.67L949.75 73.80L951.74 78.06L951.95 82.32L952.03 86.59L952.10 90.85L952.14 95.11L952.18 99.37L952.21 103.63L952.24 107.90L952.28 112.16L952.32 116.42L952.38 120.68L952.43 124.94L952.49 129.21L952.55 133.47L952.61 137.73L952.67 141.99L952.74 146.26L952.81 150.52L952.89 154.78L952.96 159.04L953.04 163.30L953.13 167.57L953.22 171.83L953.32 176.09L953.44 180.35L953.56 184.61L953.68 188.88L953.81 193.14L953.95 197.40L954.15 192.63L954.35 187.96L954.54 183.39L954.71 178.92L954.88 174.55L955.05 170.27L955.20 166.09L955.34 162.01L955.48 158.03L955.60 154.15L955.72 150.37L955.83 146.68L955.92 143.09L956.00 139.60L956.08 136.21L956.15 132.92L956.23 129.73L956.30 126.63L956.38 123.63L956.47 120.73L956.57 117.93L956.68 115.23L956.81 112.62L956.98 110.12L957.18 107.71L957.41 105.40L957.64 103.19L957.87 101.07L958.09 99.06L958.29 97.14L958.49 95.32L958.70 93.60L958.90 91.98L959.10 90.46L959.30 89.03L959.50 87.71L959.69 86.48L959.89 85.35L960.08 84.31L960.29 83.38L960.51 82.55L960.74 81.81L960.98 81.17L961.24 80.63L961.50 80.19L961.77 79.84L962.06 79.60L962.35 79.45L962.65 79.40L963.03 79.47L963.40 79.67L963.77 80.00L964.12 80.46L964.47 81.06L964.81 81.79L965.14 82.65L965.45 83.64L965.74 84.77L966.03 86.03L966.33 87.42L966.65 88.95L967.01 90.61L967.38 92.40L967.78 94.32L968.19 96.37L968.60 98.56L969.02 100.88L969.48 103.34L969.94 105.92L970.39 108.64L970.80 111.49L971.13 114.47L971.41 117.59L971.66 120.84L971.90 124.22L972.12 127.73L972.32 131.38L972.52 135.16L972.72 139.07L972.93 143.12L973.14 147.29L973.37 151.60L973.60 156.05L973.84 160.62L974.06 165.33L974.26 170.17L974.46 175.14L974.66 180.25L974.85 185.48L975.02 190.85L975.18 196.36L975.32 201.99L975.44 207.76L975.55 213.66L975.63 219.70L975.69 225.86L975.75 232.16L975.81 238.59L975.87 245.16L975.92 251.85L975.97 258.68L976.01 265.64L976.05 272.74L976.09 279.97L976.11 287.33L976.13 294.82L976.15 302.44L976.15 310.20L976.21 305.36L976.28 300.52L976.34 295.68L976.41 290.84L976.47 286.01L976.53 281.17L976.60 276.33L976.66 271.49L976.71 266.65L976.77 261.81L976.84 256.97L976.91 252.13L977.00 247.30L977.09 242.46L977.20 237.62L977.32 232.78L977.46 227.94L977.61 223.10L977.80 218.26L978.04 213.42L978.30 208.59L978.56 203.75L978.82 198.91L979.08 194.07L979.35 189.23L979.65 184.39L979.97 179.55L980.31 174.71L980.69 169.88L981.13 165.04L981.65 160.20L982.21 155.36L982.79 150.52L983.36 145.68L983.94 140.84L984.54 136.00L985.16 131.17L985.77 126.33L986.40 121.49L987.07 116.65L987.77 111.81L988.49 106.97L989.24 102.13L990.05 97.29L990.97 92.46L992.04 87.62L993.46 82.78L994.94 77.94L996.45 73.10L998.29 77.97L998.47 82.84L998.54 87.72L998.60 92.59L998.64 97.46L998.67 102.33L998.70 107.21L998.74 112.08L998.79 116.95L998.85 121.82L998.91 126.70L998.98 131.57L999.05 136.44L999.12 141.31L999.19 146.19L999.27 151.06L999.35 155.93L999.42 160.80L999.49 165.68L999.57 170.55L999.64 175.42L999.71 180.29L999.79 185.17L999.86 190.04L999.94 194.91L1000.02 199.78L1000.09 204.66L1000.17 209.53L1000.25 214.40L1000.33 208.93L1000.43 203.58L1000.52 198.34L1000.62 193.21L1000.73 188.20L1000.84 183.29L1000.95 178.50L1001.07 173.83L1001.19 169.26L1001.32 164.81L1001.46 160.47L1001.61 156.25L1001.75 152.13L1001.88 148.13L1001.98 144.24L1002.08 140.47L1002.16 136.80L1002.24 133.25L1002.32 129.82L1002.40 126.49L1002.48 123.28L1002.58 120.18L1002.68 117.19L1002.81 114.32L1002.96 111.56L1003.15 108.91L1003.38 106.37L1003.63 103.95L1003.88 101.64L1004.11 99.44L1004.33 97.36L1004.55 95.39L1004.77 93.53L1004.99 91.78L1005.20 90.14L1005.42 88.62L1005.63 87.21L1005.84 85.92L1006.04 84.74L1006.26 83.66L1006.48 82.71L1006.72 81.86L1006.98 81.13L1007.25 80.51L1007.52 80.00L1007.81 79.61L1008.12 79.33L1008.43 79.16L1008.75 79.10L1009.12 79.16L1009.48 79.35L1009.84 79.67L1010.19 80.11L1010.53 80.67L1010.86 81.36L1011.18 82.18L1011.49 83.13L1011.77 84.20L1012.06 85.39L1012.35 86.71L1012.65 88.16L1012.98 89.73L1013.34 91.43L1013.72 93.26L1014.12 95.21L1014.52 97.28L1014.92 99.48L1015.35 101.81L1015.80 104.27L1016.25 106.84L1016.68 109.55L1017.04 112.38L1017.34 115.34L1017.60 118.42L1017.84 121.63L1018.06 124.96L1018.27 128.42L1018.47 132.01L1018.67 135.72L1018.86 139.56L1019.06 143.52L1019.27 147.61L1019.50 151.83L1019.73 156.17L1019.95 160.64L1020.17 165.23L1020.37 169.95L1020.56 174.79L1020.75 179.76L1020.94 184.86L1021.11 190.08L1021.26 195.43L1021.40 200.90L1021.52 206.50L1021.63 212.22L1021.72 218.07L1021.78 224.05L1021.83 230.15L1021.88 236.38L1021.93 242.74L1021.98 249.22L1022.02 255.82L1022.06 262.55L1022.09 269.41L1022.11 276.40L1022.13 283.50L1022.15 290.74L1022.15 298.10L1022.26 293.50L1022.37 288.90L1022.47 284.31L1022.55 279.71L1022.62 275.11L1022.68 270.51L1022.74 265.91L1022.79 261.32L1022.85 256.72L1022.91 252.12L1022.99 247.52L1023.08 242.92L1023.19 238.33L1023.30 233.73L1023.43 229.13L1023.57 224.53L1023.73 219.93L1023.94 215.34L1024.18 210.74L1024.44 206.14L1024.68 201.54L1024.92 196.94L1025.17 192.35L1025.44 187.75L1025.73 183.15L1026.04 178.55L1026.37 173.96L1026.73 169.36L1027.16 164.76L1027.65 160.16L1028.19 155.56L1028.74 150.97L1029.28 146.37L1029.83 141.77L1030.40 137.17L1030.98 132.57L1031.56 127.98L1032.15 123.38L1032.77 118.78L1033.42 114.18L1034.11 109.58L1034.81 104.99L1035.55 100.39L1036.37 95.79L1037.29 91.19L1038.39 86.59L1039.82 82.00L1041.27 77.40L1042.75 72.80L1044.52 78.24L1044.68 83.69L1044.75 89.13L1044.80 94.58L1044.84 100.02L1044.87 105.47L1044.91 110.91L1044.97 116.36L1045.03 121.80L1045.10 127.25L1045.17 132.69L1045.25 138.14L1045.33 143.58L1045.41 149.03L1045.49 154.47L1045.57 159.92L1045.64 165.36L1045.71 170.81L1045.77 176.25L1045.83 181.70L1045.90 187.14L1045.96 192.59L1046.02 198.03L1046.08 203.48L1046.13 208.92L1046.19 214.37L1046.24 219.81L1046.30 225.26L1046.35 230.70L1046.49 224.56L1046.64 218.55L1046.78 212.67L1046.92 206.91L1047.07 201.28L1047.21 195.78L1047.36 190.40L1047.51 185.15L1047.65 180.02L1047.80 175.03L1047.95 170.16L1048.09 165.41L1048.25 160.79L1048.41 156.30L1048.55 151.93L1048.68 147.70L1048.79 143.58L1048.89 139.60L1048.98 135.74L1049.06 132.01L1049.14 128.40L1049.23 124.92L1049.32 121.57L1049.43 118.34L1049.55 115.24L1049.69 112.27L1049.89 109.42L1050.12 106.70L1050.38 104.11L1050.65 101.64L1050.90 99.30L1051.13 97.08L1051.36 95.00L1051.59 93.03L1051.82 91.20L1052.05 89.49L1052.28 87.91L1052.50 86.46L1052.72 85.13L1052.94 83.92L1053.17 82.85L1053.42 81.90L1053.69 81.08L1053.96 80.38L1054.26 79.81L1054.56 79.37L1054.88 79.05L1055.21 78.86L1055.55 78.80L1055.90 78.86L1056.25 79.03L1056.59 79.32L1056.92 79.72L1057.25 80.23L1057.57 80.86L1057.88 81.61L1058.18 82.47L1058.46 83.44L1058.73 84.53L1059.00 85.73L1059.28 87.05L1059.58 88.48L1059.91 90.03L1060.26 91.69L1060.63 93.46L1061.01 95.35L1061.39 97.36L1061.77 99.48L1062.19 101.71L1062.62 104.06L1063.05 106.52L1063.45 109.10L1063.81 111.79L1064.10 114.60L1064.35 117.52L1064.59 120.56L1064.80 123.71L1065.01 126.97L1065.20 130.35L1065.39 133.85L1065.57 137.46L1065.76 141.18L1065.95 145.02L1066.16 148.97L1066.38 153.04L1066.60 157.22L1066.81 161.52L1067.01 165.93L1067.21 170.45L1067.41 175.09L1067.62 179.85L1067.82 184.72L1067.99 189.70L1068.12 194.80L1068.19 200.01L1068.20 205.34L1068.20 210.78L1068.20 216.34L1068.20 222.01L1068.21 227.79L1068.22 233.69L1068.25 239.71L1068.28 245.84L1068.32 252.08L1068.37 258.44L1068.43 264.91L1068.49 271.50L1068.55 278.20L1068.68 274.01L1068.80 269.81L1068.92 265.62L1069.04 261.42L1069.15 257.23L1069.27 253.04L1069.38 248.84L1069.48 244.65L1069.58 240.46L1069.67 236.26L1069.76 232.07L1069.87 227.87L1069.99 223.68L1070.15 219.49L1070.34 215.29L1070.56 211.10L1070.79 206.90L1071.02 202.71L1071.24 198.52L1071.46 194.32L1071.70 190.13L1071.95 185.93L1072.22 181.74L1072.51 177.55L1072.81 173.35L1073.15 169.16L1073.54 164.97L1073.98 160.77L1074.47 156.58L1074.97 152.38L1075.46 148.19L1075.96 144.00L1076.47 139.80L1076.99 135.61L1077.52 131.41L1078.06 127.22L1078.60 123.03L1079.16 118.83L1079.76 114.64L1080.38 110.44L1081.00 106.25L1081.65 102.06L1082.35 97.86L1083.13 93.67L1084.00 89.48L1085.09 85.28L1086.41 81.09L1087.71 76.89L1089.05 72.70L1090.88 78.34L1091.04 83.99L1091.11 89.63L1091.17 95.28L1091.20 100.92L1091.24 106.57L1091.29 112.21L1091.35 117.86L1091.42 123.50L1091.49 129.15L1091.58 134.79L1091.66 140.44L1091.75 146.08L1091.83 151.73L1091.91 157.37L1091.99 163.02L1092.06 168.66L1092.13 174.31L1092.19 179.95L1092.26 185.60L1092.32 191.24L1092.38 196.89L1092.44 202.53L1092.49 208.18L1092.55 213.82L1092.60 219.47L1092.65 225.11L1092.70 230.76L1092.75 236.40L1092.86 230.02L1092.98 223.78L1093.10 217.67L1093.22 211.69L1093.35 205.84L1093.48 200.12L1093.61 194.53L1093.74 189.08L1093.88 183.76L1094.01 178.56L1094.15 173.50L1094.29 168.57L1094.44 163.78L1094.60 159.11L1094.76 154.58L1094.90 150.17L1095.03 145.90L1095.13 141.76L1095.23 137.75L1095.31 133.87L1095.40 130.13L1095.48 126.51L1095.58 123.03L1095.68 119.68L1095.79 116.46L1095.93 113.37L1096.10 110.41L1096.32 107.58L1096.58 104.89L1096.85 102.33L1097.11 99.89L1097.36 97.59L1097.59 95.42L1097.83 93.39L1098.06 91.48L1098.29 89.71L1098.53 88.06L1098.75 86.55L1098.98 85.17L1099.20 83.92L1099.44 82.81L1099.69 81.82L1099.95 80.97L1100.24 80.24L1100.53 79.65L1100.84 79.19L1101.17 78.86L1101.50 78.67L1101.85 78.60L1102.18 78.65L1102.51 78.80L1102.83 79.06L1103.14 79.41L1103.45 79.86L1103.75 80.42L1104.05 81.08L1104.33 81.84L1104.61 82.70L1104.87 83.66L1105.12 84.72L1105.38 85.88L1105.64 87.15L1105.93 88.52L1106.24 89.98L1106.57 91.55L1106.92 93.22L1107.27 94.99L1107.63 96.86L1107.99 98.84L1108.37 100.91L1108.78 103.09L1109.19 105.36L1109.58 107.74L1109.94 110.22L1110.24 112.80L1110.49 115.48L1110.73 118.26L1110.94 121.15L1111.14 124.13L1111.33 127.22L1111.51 130.40L1111.69 133.69L1111.86 137.08L1112.04 140.57L1112.22 144.16L1112.41 147.86L1112.62 151.65L1112.84 155.55L1113.05 159.54L1113.24 163.64L1113.39 167.84L1113.53 172.14L1113.66 176.54L1113.79 181.04L1113.90 185.65L1113.99 190.35L1114.06 195.16L1114.09 200.06L1114.10 205.07L1114.10 210.18L1114.10 215.39L1114.10 220.70L1114.11 226.12L1114.15 231.63L1114.20 237.25L1114.28 242.96L1114.36 248.78L1114.45 254.70L1115.65 252.50L1116.85 254.30L1116.86 250.59L1116.89 246.88L1116.94 243.18L1117.00 239.47L1117.07 235.76L1117.15 232.05L1117.25 228.34L1117.36 224.63L1117.47 220.93L1117.59 217.22L1117.72 213.51L1117.84 209.80L1117.98 206.09L1118.11 202.39L1118.29 198.68L1118.49 194.97L1118.72 191.26L1118.95 187.55L1119.19 183.84L1119.43 180.14L1119.68 176.43L1119.96 172.72L1120.26 169.01L1120.60 165.30L1120.99 161.60L1121.41 157.89L1121.86 154.18L1122.29 150.47L1122.73 146.76L1123.17 143.06L1123.63 139.35L1124.09 135.64L1124.56 131.93L1125.03 128.22L1125.52 124.51L1126.01 120.81L1126.51 117.10L1127.04 113.39L1127.55 109.68L1128.06 105.97L1128.58 102.27L1129.13 98.56L1129.73 94.85L1130.40 91.14L1131.16 87.43L1132.14 83.72L1133.22 80.02L1134.27 76.31L1135.35 72.60L1137.02 77.94L1137.17 83.29L1137.24 88.63L1137.29 93.98L1137.32 99.32L1137.35 104.67L1137.39 110.01L1137.43 115.36L1137.49 120.70L1137.56 126.05L1137.62 131.39L1137.69 136.74L1137.77 142.08L1137.84 147.43L1137.92 152.77L1137.99 158.12L1138.06 163.46L1138.12 168.81L1138.18 174.15L1138.24 179.50L1138.30 184.84L1138.36 190.19L1138.42 195.53L1138.48 200.88L1138.53 206.22L1138.59 211.57L1138.64 216.91L1138.70 222.26L1138.75 227.60L1138.96 221.57L1139.16 215.67L1139.36 209.89L1139.56 204.24L1139.75 198.70L1139.93 193.30L1140.11 188.02L1140.29 182.86L1140.46 177.83L1140.63 172.92L1140.79 168.13L1140.95 163.47L1141.11 158.93L1141.26 154.52L1141.39 150.23L1141.52 146.07L1141.62 142.03L1141.71 138.12L1141.80 134.33L1141.88 130.66L1141.96 127.12L1142.05 123.70L1142.15 120.41L1142.25 117.24L1142.38 114.19L1142.53 111.27L1142.73 108.48L1142.97 105.80L1143.23 103.26L1143.49 100.83L1143.74 98.53L1143.97 96.36L1144.20 94.31L1144.42 92.38L1144.65 90.58L1144.88 88.90L1145.10 87.35L1145.32 85.92L1145.54 84.61L1145.76 83.43L1145.99 82.38L1146.24 81.44L1146.50 80.64L1146.78 79.95L1147.07 79.39L1147.37 78.96L1147.69 78.65L1148.01 78.46L1148.35 78.40L1148.70 78.45L1149.03 78.62L1149.37 78.89L1149.69 79.27L1150.01 79.76L1150.32 80.36L1150.63 81.07L1150.92 81.89L1151.20 82.82L1151.46 83.86L1151.73 85.00L1152.00 86.26L1152.29 87.62L1152.60 89.10L1152.93 90.68L1153.29 92.37L1153.65 94.17L1154.02 96.08L1154.40 98.10L1154.78 100.23L1155.20 102.47L1155.63 104.82L1156.04 107.27L1156.41 109.84L1156.73 112.51L1157.00 115.30L1157.24 118.19L1157.46 121.19L1157.67 124.30L1157.86 127.52L1158.05 130.85L1158.23 134.29L1158.41 137.84L1158.60 141.50L1158.79 145.26L1158.99 149.14L1159.20 153.12L1159.42 157.22L1159.63 161.42L1159.82 165.73L1160.00 170.15L1160.19 174.68L1160.36 179.32L1160.53 184.07L1160.69 188.93L1160.84 193.90L1160.97 198.97L1161.09 204.16L1161.17 209.45L1161.25 214.86L1161.35 220.37L1161.48 225.99L1161.63 231.72L1161.80 237.56L1161.99 243.51L1162.20 249.57L1162.43 255.74L1162.68 262.01L1162.95 268.40L1163.17 264.08L1163.38 259.76L1163.56 255.45L1163.72 251.13L1163.84 246.81L1163.93 242.49L1164.01 238.17L1164.09 233.86L1164.17 229.54L1164.26 225.22L1164.38 220.90L1164.55 216.58L1164.75 212.27L1164.96 207.95L1165.17 203.63L1165.37 199.31L1165.58 194.99L1165.80 190.68L1166.03 186.36L1166.27 182.04L1166.52 177.72L1166.78 173.41L1167.07 169.09L1167.40 164.77L1167.76 160.45L1168.16 156.13L1168.57 151.82L1169.00 147.50L1169.44 143.18L1169.91 138.86L1170.42 134.54L1171.00 130.23L1171.68 125.91L1172.43 121.59L1173.19 117.27L1173.92 112.95L1174.63 108.64L1175.34 104.32L1176.05 100.00"/>
<path class="c" style="stroke-width:2.2" stroke="#EDB120" d="M732.60 357.90L732.60 346.87L732.61 336.12L732.63 325.67L732.64 315.49L732.67 305.61L732.69 296.01L732.72 286.70L732.74 277.67L732.78 268.93L732.82 260.48L732.87 252.32L732.93 244.44L732.99 236.84L733.07 229.54L733.14 222.52L733.23 215.79L733.34 209.34L733.46 203.18L733.60 197.30L733.75 191.72L733.91 186.42L734.08 181.40L734.26 176.67L734.45 172.23L734.65 168.08L734.87 164.21L735.12 160.63L735.41 157.33L735.70 154.33L736.01 151.60L736.30 149.17L736.59 147.02L736.88 145.16L737.16 143.58L737.36 142.29L737.55 141.29L737.72 140.57L737.85 140.14L737.95 140.00L738.95 140.70L740.15 144.30L740.45 150.89L740.74 157.48L741.01 164.07L741.24 170.66L741.46 177.25L741.67 183.84L741.87 190.43L742.06 197.02L742.24 203.61L742.40 210.19L742.54 216.78L742.68 223.37L742.80 229.96L742.91 236.55L743.02 243.14L743.12 249.73L743.21 256.32L743.29 262.91L743.35 269.50L743.61 265.50L743.86 261.49L744.11 257.49L744.35 253.48L744.58 249.48L744.81 245.48L745.03 241.47L745.24 237.47L745.45 233.46L745.66 229.46L745.87 225.46L746.08 221.45L746.28 217.45L746.48 213.44L746.67 209.44L746.88 205.43L747.08 201.43L747.29 197.43L747.51 193.42L747.74 189.42L747.99 185.41L748.26 181.41L748.56 177.41L748.88 173.40L749.22 169.40L749.60 165.39L750.02 161.39L750.48 157.39L750.95 153.38L751.42 149.38L751.90 145.37L752.38 141.37L752.87 137.37L753.38 133.36L753.89 129.36L754.41 125.35L754.94 121.35L755.49 117.34L756.04 113.34L756.58 109.34L757.12 105.33L757.66 101.33L758.24 97.32L758.89 93.32L759.61 89.32L760.54 85.31L761.61 81.31L762.67 77.30L763.75 73.30L765.53 78.97L765.69 84.63L765.76 90.30L765.81 95.96L765.85 101.63L765.88 107.29L765.93 112.96L765.99 118.62L766.05 124.29L766.13 129.96L766.21 135.62L766.29 141.29L766.38 146.95L766.46 152.62L766.54 158.28L766.62 163.95L766.68 169.61L766.75 175.28L766.81 180.94L766.87 186.61L766.93 192.28L766.99 197.94L767.05 203.61L767.10 209.27L767.16 214.94L767.21 220.60L767.26 226.27L767.30 231.93L767.35 237.60L767.50 231.22L767.66 224.97L767.81 218.86L767.96 212.87L768.12 207.02L768.27 201.30L768.42 195.71L768.58 190.25L768.73 184.92L768.88 179.73L769.03 174.66L769.19 169.73L769.34 164.93L769.50 160.26L769.66 155.72L769.80 151.32L769.92 147.04L770.03 142.90L770.13 138.89L770.21 135.01L770.30 131.26L770.38 127.64L770.47 124.16L770.58 120.80L770.69 117.58L770.83 114.49L771.00 111.53L771.22 108.70L771.48 106.01L771.75 103.44L772.01 101.01L772.25 98.71L772.49 96.54L772.73 94.50L772.96 92.59L773.19 90.81L773.43 89.17L773.65 87.66L773.88 86.28L774.10 85.03L774.34 83.91L774.59 82.92L774.85 82.07L775.14 81.34L775.43 80.75L775.74 80.29L776.07 79.96L776.40 79.77L776.75 79.70L777.09 79.74L777.42 79.88L777.75 80.13L778.07 80.48L778.38 80.94L778.69 81.50L778.99 82.17L779.28 82.94L779.55 83.82L779.81 84.81L780.07 85.90L780.34 87.10L780.62 88.40L780.91 89.80L781.24 91.31L781.58 92.93L781.94 94.64L782.30 96.47L782.67 98.39L783.04 100.43L783.44 102.56L783.85 104.80L784.26 107.15L784.65 109.60L784.99 112.16L785.27 114.83L785.52 117.60L785.75 120.48L785.96 123.47L786.15 126.56L786.34 129.76L786.52 133.06L786.70 136.47L786.88 139.99L787.06 143.61L787.25 147.33L787.45 151.16L787.66 155.09L787.88 159.13L788.08 163.27L788.27 167.52L788.44 171.87L788.62 176.33L788.79 180.90L788.96 185.57L789.11 190.35L789.26 195.23L789.39 200.22L789.49 205.31L789.57 210.51L789.65 215.82L789.75 221.23L789.89 226.74L790.06 232.36L790.26 238.08L790.50 243.90L790.75 249.83L791.04 255.86L791.35 262.00L791.64 258.13L791.90 254.26L792.10 250.39L792.25 246.52L792.35 242.65L792.44 238.78L792.52 234.92L792.60 231.05L792.68 227.18L792.78 223.32L792.92 219.45L793.09 215.58L793.29 211.71L793.50 207.84L793.71 203.97L793.92 200.10L794.12 196.23L794.33 192.36L794.55 188.49L794.79 184.62L795.04 180.75L795.30 176.88L795.58 173.01L795.89 169.13L796.23 165.26L796.62 161.39L797.06 157.51L797.52 153.64L797.98 149.76L798.43 145.89L798.90 142.01L799.37 138.14L799.85 134.26L800.34 130.39L800.85 126.51L801.36 122.63L801.88 118.76L802.40 114.88L802.92 111.00L803.41 107.13L803.88 103.25L804.37 99.38L804.89 95.50L805.47 91.62L806.13 87.74L806.99 83.86L807.95 79.97L808.88 76.09L809.85 72.20L811.70 77.77L811.88 82.95L811.95 88.10L812.01 93.25L812.05 98.39L812.08 103.53L812.11 108.68L812.16 113.82L812.22 118.97L812.28 124.12L812.35 129.27L812.43 134.42L812.51 139.58L812.58 144.73L812.66 149.88L812.74 155.04L812.82 160.19L812.89 165.34L812.97 170.49L813.04 175.64L813.11 180.80L813.18 185.95L813.25 191.10L813.31 196.25L813.38 201.40L813.45 206.55L813.52 211.70L813.58 216.85L813.65 222.00L813.85 216.24L814.05 210.60L814.25 205.08L814.44 199.68L814.62 194.39L814.80 189.23L814.97 184.18L815.14 179.25L815.31 174.44L815.47 169.75L815.63 165.18L815.78 160.73L815.93 156.39L816.07 152.18L816.19 148.08L816.30 144.10L816.39 140.25L816.48 136.51L816.56 132.88L816.64 129.38L816.72 126.00L816.81 122.73L816.91 119.59L817.02 116.56L817.16 113.65L817.33 110.86L817.55 108.18L817.79 105.63L818.05 103.19L818.30 100.88L818.53 98.68L818.76 96.60L818.98 94.64L819.20 92.79L819.42 91.07L819.65 89.47L819.86 87.98L820.08 86.61L820.29 85.36L820.51 84.23L820.73 83.22L820.98 82.33L821.24 81.56L821.51 80.90L821.79 80.36L822.09 79.94L822.40 79.64L822.72 79.46L823.05 79.40L823.40 79.45L823.75 79.61L824.09 79.89L824.42 80.28L824.75 80.78L825.07 81.41L825.38 82.14L825.68 82.99L825.96 83.96L826.23 85.04L826.50 86.23L826.78 87.54L827.08 88.97L827.41 90.50L827.76 92.15L828.13 93.92L828.50 95.80L828.89 97.79L829.27 99.90L829.68 102.12L830.12 104.46L830.55 106.91L830.95 109.47L831.31 112.15L831.59 114.95L831.85 117.86L832.09 120.89L832.30 124.03L832.50 127.29L832.70 130.66L832.88 134.15L833.07 137.75L833.26 141.47L833.45 145.30L833.66 149.25L833.87 153.30L834.09 157.48L834.31 161.77L834.51 166.17L834.70 170.69L834.88 175.32L835.07 180.07L835.24 184.93L835.40 189.90L835.55 195.00L835.69 200.20L835.80 205.52L835.89 210.96L835.97 216.51L836.07 222.18L836.20 227.96L836.33 233.85L836.48 239.86L836.64 245.98L836.82 252.22L837.01 258.57L837.21 265.03L837.42 271.61L837.65 278.30L837.77 274.10L837.89 269.89L838.01 265.69L838.12 261.48L838.24 257.28L838.35 253.08L838.46 248.87L838.56 244.67L838.66 240.47L838.75 236.27L838.84 232.06L838.95 227.86L839.07 223.66L839.21 219.45L839.40 215.24L839.62 211.03L839.85 206.81L840.08 202.60L840.30 198.39L840.52 194.17L840.75 189.96L841.00 185.74L841.27 181.53L841.55 177.31L841.85 173.09L842.18 168.87L842.56 164.64L842.99 160.41L843.47 156.17L843.97 151.94L844.47 147.70L844.97 143.46L845.47 139.23L845.99 134.99L846.52 130.75L847.07 126.51L847.62 122.26L848.19 118.02L848.75 113.78L849.31 109.54L849.84 105.30L850.36 101.06L850.91 96.82L851.51 92.57L852.20 88.32L853.05 84.05L854.08 79.77L855.10 75.48L856.15 71.20L857.86 76.50L858.03 80.90L858.11 85.24L858.16 89.57L858.20 93.90L858.23 98.21L858.26 102.53L858.28 106.85L858.32 111.16L858.36 115.49L858.41 119.82L858.45 124.14L858.50 128.47L858.55 132.80L858.61 137.13L858.67 141.47L858.72 145.80L858.79 150.14L858.85 154.48L858.92 158.81L858.99 163.16L859.06 167.50L859.14 171.84L859.23 176.20L859.32 180.55L859.42 184.91L859.53 189.27L859.64 193.63L859.75 198.00L860.18 193.17L860.57 188.44L860.94 183.81L861.26 179.29L861.55 174.86L861.79 170.55L861.99 166.33L862.15 162.22L862.28 158.21L862.40 154.29L862.51 150.48L862.62 146.77L862.71 143.16L862.80 139.65L862.88 136.23L862.95 132.92L863.02 129.70L863.10 126.58L863.18 123.57L863.26 120.64L863.36 117.82L863.47 115.10L863.60 112.47L863.77 109.93L863.97 107.49L864.20 105.15L864.43 102.90L864.66 100.76L864.88 98.71L865.08 96.77L865.29 94.92L865.49 93.17L865.69 91.52L865.89 89.97L866.10 88.52L866.29 87.17L866.49 85.91L866.68 84.76L866.88 83.70L867.08 82.74L867.30 81.88L867.54 81.12L867.78 80.45L868.03 79.88L868.30 79.41L868.57 79.03L868.86 78.76L869.15 78.58L869.45 78.50L869.82 78.56L870.18 78.74L870.54 79.05L870.89 79.48L871.23 80.04L871.56 80.73L871.88 81.54L872.19 82.48L872.48 83.55L872.76 84.74L873.05 86.06L873.36 87.50L873.69 89.07L874.05 90.77L874.43 92.59L874.83 94.54L875.23 96.61L875.63 98.81L876.06 101.14L876.51 103.59L876.97 106.16L877.39 108.87L877.75 111.70L878.05 114.66L878.31 117.74L878.55 120.96L878.77 124.29L878.98 127.76L879.18 131.35L879.38 135.07L879.57 138.91L879.77 142.88L879.98 146.98L880.21 151.20L880.44 155.55L880.66 160.02L880.88 164.63L881.08 169.35L881.27 174.21L881.46 179.19L881.65 184.29L881.82 189.52L881.97 194.88L882.11 200.37L882.22 205.98L882.32 211.72L882.41 217.59L882.51 223.58L882.62 229.69L882.73 235.94L882.84 242.31L882.95 248.80L883.07 255.42L883.19 262.17L883.32 269.04L883.45 276.04L883.58 283.17L883.71 290.42L883.85 297.80L883.96 293.20L884.06 288.60L884.15 284.00L884.23 279.40L884.31 274.80L884.37 270.20L884.42 265.61L884.47 261.01L884.53 256.41L884.60 251.82L884.67 247.22L884.76 242.62L884.86 238.02L884.97 233.42L885.09 228.81L885.22 224.21L885.38 219.61L885.57 215.00L885.81 210.38L886.06 205.77L886.31 201.16L886.55 196.54L886.80 191.93L887.06 187.32L887.34 182.70L887.64 178.08L887.97 173.46L888.32 168.84L888.72 164.21L889.20 159.58L889.72 154.94L890.27 150.30L890.81 145.66L891.36 141.02L891.92 136.38L892.50 131.74L893.08 127.10L893.69 122.45L894.30 117.81L894.93 113.16L895.55 108.52L896.13 103.87L896.73 99.23L897.36 94.58L898.08 89.93L898.93 85.26L900.02 80.58L901.12 75.89L902.25 71.20L904.34 75.85L904.47 79.64L904.54 83.41L904.60 87.17L904.66 90.93L904.72 94.69L904.77 98.44L904.81 102.20L904.86 105.95L904.90 109.71L904.95 113.46L905.00 117.22L905.03 120.97L905.07 124.72L905.09 128.46L905.12 132.21L905.15 135.96L905.17 139.70L905.20 143.45L905.24 147.20L905.28 150.95L905.33 154.71L905.39 158.47L905.47 162.24L905.55 166.01L905.65 169.79L906.11 173.72L906.99 177.85L907.95 182.00L908.13 177.82L908.29 173.72L908.45 169.71L908.59 165.79L908.73 161.96L908.86 158.21L908.98 154.55L909.09 150.97L909.19 147.49L909.28 144.09L909.36 140.78L909.44 137.55L909.51 134.41L909.58 131.36L909.65 128.39L909.72 125.51L909.79 122.71L909.87 120.00L909.96 117.37L910.07 114.83L910.19 112.37L910.34 109.99L910.52 107.69L910.73 105.47L910.95 103.34L911.16 101.30L911.37 99.34L911.57 97.46L911.76 95.68L911.95 93.98L912.14 92.37L912.32 90.84L912.51 89.40L912.70 88.04L912.89 86.77L913.07 85.58L913.25 84.49L913.43 83.47L913.62 82.55L913.82 81.70L914.03 80.94L914.25 80.27L914.48 79.68L914.72 79.17L914.97 78.75L915.23 78.41L915.49 78.15L915.77 77.98L916.05 77.90L916.43 77.88L916.81 77.99L917.17 78.24L917.53 78.62L917.88 79.14L918.22 79.79L918.55 80.59L918.86 81.51L919.15 82.58L919.45 83.78L919.75 85.11L920.07 86.57L920.42 88.16L920.80 89.88L921.20 91.72L921.61 93.69L922.03 95.80L922.45 98.04L922.91 100.40L923.38 102.90L923.83 105.53L924.23 108.31L924.55 111.24L924.83 114.32L925.09 117.53L925.32 120.89L925.54 124.38L925.74 128.00L925.95 131.76L926.15 135.66L926.35 139.69L926.57 143.84L926.80 148.13L927.03 152.55L927.27 157.11L927.49 161.80L927.69 166.63L927.89 171.60L928.09 176.70L928.27 181.93L928.45 187.30L928.60 192.81L928.74 198.46L928.85 204.25L928.95 210.17L929.04 216.23L929.13 222.42L929.22 228.75L929.30 235.21L929.39 241.81L929.47 248.53L929.55 255.40L929.63 262.40L929.71 269.53L929.78 276.79L929.86 284.19L929.92 291.73L929.99 299.40L930.05 307.20L930.11 302.34L930.17 297.47L930.23 292.61L930.29 287.74L930.35 282.88L930.41 278.01L930.47 273.15L930.53 268.28L930.59 263.42L930.65 258.55L930.71 253.69L930.79 248.82L930.87 243.96L930.96 239.09L931.06 234.23L931.18 229.37L931.31 224.51L931.46 219.65L931.63 214.78L931.86 209.93L932.12 205.07L932.39 200.21L932.64 195.36L932.90 190.50L933.17 185.64L933.47 180.79L933.78 175.93L934.11 171.08L934.49 166.23L934.91 161.38L935.41 156.53L935.97 151.69L936.55 146.84L937.12 142.00L937.71 137.15L938.31 132.31L938.92 127.47L939.55 122.63L940.18 117.78L940.84 112.94L941.53 108.11L942.24 103.27L942.96 98.43L943.73 93.59L944.60 88.76L945.62 83.93L946.95 79.12L948.34 74.31L949.75 69.50L951.74 75.14L951.95 79.54L952.03 83.86L952.10 88.17L952.14 92.46L952.18 96.75L952.21 101.03L952.24 105.31L952.28 109.60L952.32 113.90L952.38 118.20L952.43 122.50L952.49 126.80L952.55 131.10L952.61 135.40L952.67 139.71L952.74 144.02L952.81 148.33L952.89 152.64L952.96 156.96L953.04 161.28L953.13 165.60L953.22 169.92L953.32 174.26L953.44 178.60L953.56 182.94L953.68 187.29L953.81 191.64L953.95 196.00L954.15 191.21L954.35 186.52L954.54 181.93L954.71 177.44L954.88 173.05L955.05 168.76L955.20 164.56L955.34 160.47L955.48 156.48L955.60 152.58L955.72 148.78L955.83 145.09L955.92 141.49L956.00 137.99L956.08 134.59L956.15 131.29L956.23 128.09L956.30 124.99L956.38 121.98L956.47 119.07L956.57 116.26L956.68 113.55L956.81 110.93L956.98 108.40L957.18 105.97L957.41 103.64L957.64 101.40L957.87 99.27L958.09 97.23L958.29 95.29L958.49 93.45L958.70 91.71L958.90 90.07L959.10 88.53L959.30 87.08L959.50 85.73L959.69 84.48L959.89 83.33L960.08 82.28L960.29 81.33L960.51 80.47L960.74 79.71L960.98 79.04L961.24 78.47L961.50 78.01L961.77 77.63L962.06 77.36L962.35 77.18L962.65 77.10L963.03 76.98L963.40 77.00L963.77 77.16L964.12 77.45L964.47 77.88L964.81 78.45L965.14 79.15L965.45 80.00L965.74 80.98L966.03 82.10L966.33 83.35L966.65 84.72L967.01 86.21L967.38 87.82L967.78 89.55L968.19 91.41L968.60 93.40L969.02 95.52L969.48 97.75L969.94 100.11L970.39 102.61L970.80 105.27L971.13 108.09L971.41 111.07L971.66 114.20L971.90 117.47L972.12 120.88L972.32 124.42L972.52 128.11L972.72 131.92L972.93 135.87L973.14 139.94L973.37 144.14L973.60 148.47L973.84 152.93L974.06 157.53L974.26 162.28L974.46 167.15L974.66 172.16L974.85 177.31L975.02 182.60L975.18 188.03L975.32 193.59L975.44 199.30L975.55 205.15L975.63 211.15L975.69 217.28L975.75 223.55L975.81 229.96L975.87 236.49L975.92 243.16L975.97 249.97L976.01 256.91L976.05 263.99L976.09 271.20L976.11 278.54L976.13 286.03L976.15 293.64L976.15 301.40L976.21 296.57L976.28 291.74L976.34 286.91L976.41 282.08L976.47 277.26L976.53 272.43L976.60 267.60L976.66 262.77L976.71 257.94L976.77 253.11L976.84 248.28L976.91 243.45L977.00 238.63L977.09 233.80L977.20 228.98L977.32 224.16L977.46 219.34L977.61 214.53L977.80 209.71L978.04 204.91L978.30 200.11L978.56 195.32L978.82 190.52L979.08 185.72L979.35 180.92L979.65 176.13L979.97 171.34L980.31 166.55L980.69 161.77L981.13 157.00L981.65 152.24L982.21 147.49L982.79 142.73L983.36 137.98L983.94 133.23L984.54 128.49L985.16 123.74L985.77 119.00L986.40 114.25L987.07 109.52L987.77 104.79L988.49 100.06L989.24 95.33L990.05 90.62L990.97 85.92L992.04 81.24L993.46 76.62L994.94 72.01L996.45 67.40L998.29 74.35L998.47 79.43L998.54 84.38L998.60 89.32L998.64 94.24L998.67 99.15L998.70 104.05L998.74 108.97L998.79 113.90L998.85 118.84L998.91 123.78L998.98 128.73L999.05 133.68L999.12 138.64L999.19 143.59L999.27 148.55L999.35 153.51L999.42 158.46L999.49 163.42L999.57 168.38L999.64 173.33L999.71 178.29L999.79 183.24L999.86 188.20L999.94 193.16L1000.02 198.12L1000.09 203.08L1000.17 208.04L1000.25 213.00L1000.33 207.52L1000.43 202.14L1000.52 196.88L1000.62 191.73L1000.73 186.70L1000.84 181.77L1000.95 176.96L1001.07 172.25L1001.19 167.66L1001.32 163.18L1001.46 158.82L1001.61 154.56L1001.75 150.41L1001.88 146.39L1001.98 142.48L1002.08 138.68L1002.16 135.00L1002.24 131.43L1002.32 127.98L1002.40 124.64L1002.48 121.41L1002.58 118.29L1002.68 115.28L1002.81 112.38L1002.96 109.59L1003.15 106.90L1003.38 104.31L1003.63 101.84L1003.88 99.47L1004.11 97.22L1004.33 95.09L1004.55 93.07L1004.77 91.17L1004.99 89.38L1005.20 87.70L1005.42 86.13L1005.63 84.68L1005.84 83.34L1006.04 82.11L1006.26 80.99L1006.48 79.99L1006.72 79.09L1006.98 78.30L1007.25 77.63L1007.52 77.06L1007.81 76.61L1008.12 76.26L1008.43 76.02L1008.75 75.90L1009.12 75.78L1009.48 75.78L1009.84 75.92L1010.19 76.19L1010.53 76.59L1010.86 77.11L1011.18 77.77L1011.49 78.56L1011.77 79.48L1012.06 80.54L1012.35 81.71L1012.65 83.01L1012.98 84.42L1013.34 85.93L1013.72 87.57L1014.12 89.32L1014.52 91.20L1014.92 93.20L1015.35 95.31L1015.80 97.54L1016.25 99.89L1016.68 102.39L1017.04 105.04L1017.34 107.84L1017.60 110.80L1017.84 113.88L1018.06 117.11L1018.27 120.46L1018.47 123.95L1018.67 127.56L1018.86 131.30L1019.06 135.17L1019.27 139.15L1019.50 143.25L1019.73 147.48L1019.95 151.83L1020.17 156.32L1020.37 160.94L1020.56 165.68L1020.75 170.56L1020.94 175.56L1021.11 180.70L1021.26 185.97L1021.40 191.37L1021.52 196.91L1021.63 202.58L1021.72 208.39L1021.78 214.34L1021.83 220.41L1021.88 226.62L1021.93 232.94L1021.98 239.40L1022.02 245.99L1022.06 252.70L1022.09 259.54L1022.11 266.51L1022.13 273.61L1022.15 280.84L1022.15 288.20L1022.26 283.62L1022.37 279.04L1022.47 274.46L1022.55 269.87L1022.62 265.28L1022.68 260.70L1022.74 256.11L1022.79 251.52L1022.85 246.93L1022.91 242.34L1022.99 237.75L1023.08 233.17L1023.19 228.59L1023.30 224.01L1023.43 219.43L1023.57 214.85L1023.73 210.28L1023.94 205.71L1024.18 201.15L1024.44 196.60L1024.68 192.04L1024.92 187.48L1025.17 182.92L1025.44 178.36L1025.73 173.81L1026.04 169.26L1026.37 164.71L1026.73 160.17L1027.16 155.64L1027.65 151.12L1028.19 146.60L1028.74 142.09L1029.28 137.57L1029.83 133.06L1030.40 128.55L1030.98 124.04L1031.56 119.54L1032.15 115.03L1032.77 110.53L1033.42 106.03L1034.11 101.54L1034.81 97.05L1035.55 92.57L1036.37 88.10L1037.29 83.64L1038.39 79.22L1039.82 74.84L1041.27 70.47L1042.75 66.10L1044.52 73.76L1044.68 79.40L1044.75 84.94L1044.80 90.45L1044.84 95.94L1044.87 101.42L1044.91 106.92L1044.97 112.43L1045.03 117.95L1045.10 123.48L1045.17 129.02L1045.25 134.57L1045.33 140.11L1045.41 145.66L1045.49 151.20L1045.57 156.74L1045.64 162.27L1045.71 167.80L1045.77 173.33L1045.83 178.85L1045.90 184.37L1045.96 189.90L1046.02 195.42L1046.08 200.93L1046.13 206.45L1046.19 211.97L1046.24 217.48L1046.30 222.99L1046.35 228.50L1046.49 222.33L1046.64 216.28L1046.78 210.36L1046.92 204.57L1047.07 198.90L1047.21 193.36L1047.36 187.95L1047.51 182.66L1047.65 177.50L1047.80 172.46L1047.95 167.56L1048.09 162.77L1048.25 158.12L1048.41 153.59L1048.55 149.18L1048.68 144.91L1048.79 140.77L1048.89 136.76L1048.98 132.88L1049.06 129.13L1049.14 125.50L1049.23 122.00L1049.32 118.62L1049.43 115.37L1049.55 112.24L1049.69 109.23L1049.89 106.34L1050.12 103.56L1050.38 100.90L1050.65 98.36L1050.90 95.96L1051.13 93.69L1051.36 91.54L1051.59 89.52L1051.82 87.63L1052.05 85.87L1052.28 84.23L1052.50 82.72L1052.72 81.33L1052.94 80.08L1053.17 78.94L1053.42 77.93L1053.69 77.04L1053.96 76.28L1054.26 75.64L1054.56 75.12L1054.88 74.72L1055.21 74.45L1055.55 74.30L1055.90 74.33L1056.25 74.47L1056.59 74.73L1056.92 75.10L1057.25 75.59L1057.57 76.19L1057.88 76.91L1058.18 77.74L1058.46 78.69L1058.73 79.76L1059.00 80.94L1059.28 82.23L1059.58 83.64L1059.91 85.16L1060.26 86.79L1060.63 88.53L1061.01 90.39L1061.39 92.37L1061.77 94.45L1062.19 96.65L1062.62 98.96L1063.05 101.39L1063.45 103.93L1063.81 106.60L1064.10 109.38L1064.35 112.28L1064.59 115.29L1064.80 118.43L1065.01 121.67L1065.20 125.04L1065.39 128.52L1065.57 132.11L1065.76 135.82L1065.95 139.64L1066.16 143.57L1066.38 147.62L1066.60 151.78L1066.81 156.06L1067.01 160.46L1067.21 164.97L1067.41 169.59L1067.62 174.32L1067.82 179.18L1067.99 184.15L1068.12 189.23L1068.19 194.44L1068.20 199.77L1068.20 205.21L1068.20 210.76L1068.20 216.44L1068.21 222.22L1068.22 228.12L1068.25 234.13L1068.28 240.26L1068.32 246.50L1068.37 252.85L1068.43 259.32L1068.49 265.90L1068.55 272.60L1068.68 268.39L1068.80 264.18L1068.92 259.97L1069.04 255.76L1069.15 251.55L1069.27 247.34L1069.38 243.13L1069.48 238.92L1069.58 234.71L1069.67 230.50L1069.76 226.30L1069.87 222.09L1069.99 217.88L1070.15 213.66L1070.34 209.44L1070.56 205.21L1070.79 200.99L1071.02 196.76L1071.24 192.54L1071.46 188.31L1071.70 184.08L1071.95 179.85L1072.22 175.62L1072.51 171.39L1072.81 167.15L1073.15 162.91L1073.54 158.66L1073.98 154.40L1074.47 150.14L1074.97 145.88L1075.46 141.61L1075.96 137.35L1076.47 133.08L1076.99 128.81L1077.52 124.54L1078.06 120.28L1078.60 116.00L1079.16 111.73L1079.76 107.45L1080.38 103.17L1081.00 98.89L1081.65 94.60L1082.35 90.31L1083.13 86.01L1084.00 81.69L1085.09 77.34L1086.41 72.96L1087.71 68.58L1089.05 64.20L1090.88 72.67L1091.04 78.55L1091.11 84.32L1091.17 90.04L1091.20 95.74L1091.24 101.44L1091.29 107.16L1091.35 112.90L1091.42 118.65L1091.49 124.41L1091.58 130.18L1091.66 135.96L1091.75 141.74L1091.83 147.51L1091.91 153.29L1091.99 159.05L1092.06 164.80L1092.13 170.55L1092.19 176.29L1092.26 182.03L1092.32 187.78L1092.38 193.51L1092.44 199.25L1092.49 204.98L1092.55 210.71L1092.60 216.44L1092.65 222.16L1092.70 227.88L1092.75 233.60L1092.86 227.19L1092.98 220.91L1093.10 214.77L1093.22 208.75L1093.35 202.86L1093.48 197.11L1093.61 191.48L1093.74 185.99L1093.88 180.62L1094.01 175.39L1094.15 170.29L1094.29 165.32L1094.44 160.48L1094.60 155.76L1094.76 151.18L1094.90 146.73L1095.03 142.42L1095.13 138.25L1095.23 134.22L1095.31 130.31L1095.40 126.54L1095.48 122.90L1095.58 119.39L1095.68 116.01L1095.79 112.75L1095.93 109.62L1096.10 106.62L1096.32 103.72L1096.58 100.95L1096.85 98.31L1097.11 95.80L1097.36 93.43L1097.59 91.19L1097.83 89.08L1098.06 87.11L1098.29 85.26L1098.53 83.55L1098.75 81.97L1098.98 80.52L1099.20 79.21L1099.44 78.02L1099.69 76.96L1099.95 76.03L1100.24 75.22L1100.53 74.54L1100.84 73.99L1101.17 73.57L1101.50 73.27L1101.85 73.10L1102.18 73.09L1102.51 73.17L1102.83 73.36L1103.14 73.66L1103.45 74.05L1103.75 74.55L1104.05 75.15L1104.33 75.85L1104.61 76.66L1104.87 77.57L1105.12 78.58L1105.38 79.69L1105.64 80.91L1105.93 82.22L1106.24 83.62L1106.57 85.13L1106.92 86.73L1107.27 88.43L1107.63 90.23L1107.99 92.13L1108.37 94.13L1108.78 96.23L1109.19 98.43L1109.58 100.73L1109.94 103.14L1110.24 105.66L1110.49 108.29L1110.73 111.02L1110.94 113.87L1111.14 116.81L1111.33 119.86L1111.51 123.01L1111.69 126.27L1111.86 129.62L1112.04 133.08L1112.22 136.63L1112.41 140.29L1112.62 144.04L1112.84 147.90L1113.05 151.85L1113.24 155.91L1113.39 160.08L1113.53 164.35L1113.66 168.73L1113.79 173.21L1113.90 177.79L1113.99 182.48L1114.06 187.27L1114.09 192.17L1114.10 197.18L1114.10 202.29L1114.10 207.50L1114.10 212.81L1114.11 218.22L1114.15 223.73L1114.20 229.33L1114.28 235.03L1114.36 240.83L1114.45 246.73L1115.65 244.30L1116.85 246.01L1116.86 242.31L1116.89 238.60L1116.94 234.88L1117.00 231.17L1117.07 227.46L1117.15 223.74L1117.25 220.03L1117.36 216.31L1117.47 212.60L1117.59 208.88L1117.72 205.16L1117.84 201.45L1117.98 197.73L1118.11 194.01L1118.29 190.29L1118.49 186.57L1118.72 182.84L1118.95 179.12L1119.19 175.39L1119.43 171.67L1119.68 167.94L1119.96 164.21L1120.26 160.48L1120.60 156.75L1120.99 153.02L1121.41 149.28L1121.86 145.54L1122.29 141.80L1122.73 138.06L1123.17 134.32L1123.63 130.58L1124.09 126.84L1124.56 123.10L1125.03 119.36L1125.52 115.61L1126.01 111.87L1126.51 108.13L1127.04 104.38L1127.55 100.64L1128.06 96.89L1128.58 93.15L1129.13 89.40L1129.73 85.65L1130.40 81.89L1131.16 78.13L1132.14 74.35L1133.22 70.57L1134.27 66.79L1135.35 63.00L1137.02 71.29L1137.17 76.90L1137.24 82.37L1137.29 87.80L1137.32 93.20L1137.35 98.60L1137.39 104.01L1137.43 109.44L1137.49 114.88L1137.56 120.34L1137.62 125.80L1137.69 131.28L1137.77 136.75L1137.84 142.23L1137.92 147.70L1137.99 153.17L1138.06 158.64L1138.12 164.10L1138.18 169.55L1138.24 175.00L1138.30 180.45L1138.36 185.90L1138.42 191.35L1138.48 196.80L1138.53 202.24L1138.59 207.68L1138.64 213.12L1138.70 218.56L1138.75 224.00L1138.96 217.89L1139.16 211.91L1139.36 206.06L1139.56 200.33L1139.75 194.73L1139.93 189.26L1140.11 183.91L1140.29 178.68L1140.46 173.58L1140.63 168.61L1140.79 163.77L1140.95 159.05L1141.11 154.45L1141.26 149.98L1141.39 145.64L1141.52 141.43L1141.62 137.36L1141.71 133.41L1141.80 129.58L1141.88 125.89L1141.96 122.31L1142.05 118.86L1142.15 115.53L1142.25 112.32L1142.38 109.23L1142.53 106.26L1142.73 103.38L1142.97 100.62L1143.23 97.98L1143.49 95.46L1143.74 93.06L1143.97 90.80L1144.20 88.67L1144.42 86.65L1144.65 84.77L1144.88 83.00L1145.10 81.37L1145.32 79.85L1145.54 78.47L1145.76 77.21L1145.99 76.06L1146.24 75.04L1146.50 74.13L1146.78 73.34L1147.07 72.68L1147.37 72.13L1147.69 71.70L1148.01 71.39L1148.35 71.20L1148.70 71.24L1149.03 71.39L1149.37 71.66L1149.69 72.03L1150.01 72.51L1150.32 73.10L1150.63 73.80L1150.92 74.61L1151.20 75.52L1151.46 76.55L1151.73 77.69L1152.00 78.93L1152.29 80.29L1152.60 81.75L1152.93 83.32L1153.29 85.00L1153.65 86.79L1154.02 88.69L1154.40 90.70L1154.78 92.81L1155.20 95.04L1155.63 97.37L1156.04 99.81L1156.41 102.36L1156.73 105.03L1157.00 107.80L1157.24 110.69L1157.46 113.68L1157.67 116.78L1157.86 120.00L1158.05 123.32L1158.23 126.75L1158.41 130.30L1158.60 133.95L1158.79 137.71L1158.99 141.57L1159.20 145.55L1159.42 149.64L1159.63 153.83L1159.82 158.14L1160.00 162.55L1160.19 167.08L1160.36 171.71L1160.53 176.45L1160.69 181.31L1160.84 186.27L1160.97 191.34L1161.09 196.52L1161.17 201.81L1161.25 207.21L1161.35 212.72L1161.48 218.34L1161.63 224.07L1161.80 229.90L1161.99 235.84L1162.20 241.89L1162.43 248.05L1162.68 254.32L1162.95 260.70L1163.17 256.34L1163.38 251.99L1163.56 247.64L1163.72 243.29L1163.84 238.95L1163.93 234.62L1164.01 230.29L1164.09 225.96L1164.17 221.62L1164.26 217.29L1164.38 212.95L1164.55 208.60L1164.75 204.25L1164.96 199.90L1165.17 195.54L1165.37 191.19L1165.58 186.83L1165.80 182.48L1166.03 178.12L1166.27 173.76L1166.52 169.40L1166.78 165.03L1167.07 160.66L1167.40 156.29L1167.76 151.91L1168.16 147.52L1168.57 143.13L1169.00 138.74L1169.44 134.34L1169.91 129.94L1170.42 125.53L1171.00 121.11L1171.68 116.68L1172.43 112.23L1173.19 107.77L1173.92 103.33L1174.63 98.88L1175.34 94.44L1176.05 90.00"/>
</g>
<text class="tk" x="714.50" y="386.3" text-anchor="middle">0</text>
<text class="tk" x="806.65" y="386.3" text-anchor="middle">10</text>
<text class="tk" x="880.60" y="386.3" text-anchor="middle">20</text>
<text class="tk" x="954.55" y="386.3" text-anchor="middle">30</text>
<text class="tk" x="1028.50" y="386.3" text-anchor="middle">40</text>
<text class="tk" x="1102.45" y="386.3" text-anchor="middle">50</text>
<text class="tk" x="1176.40" y="386.3" text-anchor="middle">60</text>
<text class="tk" x="721.20" y="309.25" text-anchor="end">0.005</text>
<text class="tk" x="721.20" y="252.12" text-anchor="end">0.010</text>
<text class="tk" x="721.20" y="194.99" text-anchor="end">0.015</text>
<text class="tk" x="721.20" y="137.86" text-anchor="end">0.020</text>
<text class="tk" x="721.20" y="80.73" text-anchor="end">0.025</text>
<text class="tk" x="721.20" y="23.60" text-anchor="end">0.030</text>
<text class="pl" x="613.0" y="24.0">(<tspan class="i">b</tspan><tspan dx="1.9">)</tspan></text>
<text class="al i" x="949.9" y="421.2">t</text>
<rect x="1029.1" y="299.4" width="138.7" height="50.9" fill="#fff" stroke="#505050" stroke-width="1.1"/>
<path d="M1033.3 309.30H1073.1" stroke="#0072BD" stroke-width="2" fill="none"/>
<text class="lg i" x="1080.7" y="315.30">N</text>
<text class="lg" x="1096.2" y="317.10" style="font-size:19.6px" textLength="15.1" lengthAdjust="spacingAndGlyphs">=</text>
<text class="lg" x="1115.0" y="315.30">5000</text>
<path d="M1033.3 324.95H1073.1" stroke="#D95319" stroke-width="2" fill="none"/>
<text class="lg i" x="1080.7" y="330.95">N</text>
<text class="lg" x="1096.2" y="332.75" style="font-size:19.6px" textLength="15.1" lengthAdjust="spacingAndGlyphs">=</text>
<text class="lg" x="1116.3" y="330.95">10 <tspan dx="-2.3">000</tspan></text>
<path d="M1033.3 340.60H1073.1" stroke="#EDB120" stroke-width="2" fill="none"/>
<text class="lg i" x="1080.7" y="346.60">N</text>
<text class="lg" x="1096.2" y="348.40" style="font-size:19.6px" textLength="15.1" lengthAdjust="spacingAndGlyphs">=</text>
<text class="lg" x="1115.0" y="346.60">50 <tspan dx="-2.3">000</tspan></text>
</svg>
</body>
</html>
